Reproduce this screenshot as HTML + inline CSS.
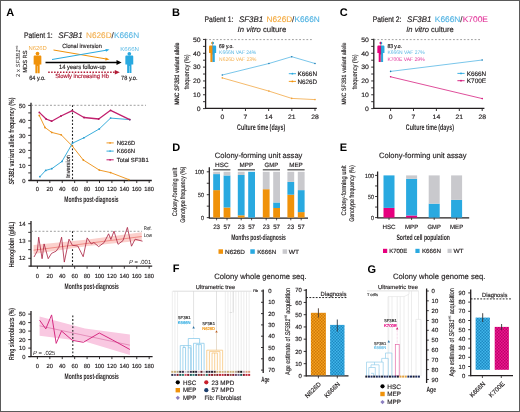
<!DOCTYPE html>
<html><head><meta charset="utf-8"><style>
html,body{margin:0;padding:0;background:#fff;}
svg{display:block;font-family:"Liberation Sans",sans-serif;will-change:transform;text-rendering:geometricPrecision;}
</style></head><body>
<svg width="520" height="412" viewBox="0 0 520 412">
<rect x="0" y="0" width="520" height="412" fill="#fff"/>
<text x="6.30" y="15.80" font-size="11" fill="#000" font-weight="bold" >A</text>
<text x="24.00" y="38.4" font-size="8.1" fill="#231f20" stroke="#231f20" stroke-width="0.2" textLength="28.7" lengthAdjust="spacingAndGlyphs">Patient 1:</text>
<text x="58.30" y="38.4" font-size="8.1" font-style="italic" fill="#231f20" stroke="#231f20" stroke-width="0.15" textLength="24.3" lengthAdjust="spacingAndGlyphs">SF3B1</text>
<text x="86.00" y="38.4" font-size="8.1" fill="#f4b050" stroke="#f4b050" stroke-width="0.1" textLength="25.6" lengthAdjust="spacingAndGlyphs">N626D</text>
<text x="111.50" y="38.4" font-size="8.1" fill="#231f20" stroke="#231f20" stroke-width="0.1">/</text>
<text x="113.90" y="38.4" font-size="8.1" fill="#5cb8e4" stroke="#5cb8e4" stroke-width="0.1" textLength="25.3" lengthAdjust="spacingAndGlyphs">K666N</text>
<text transform="translate(19.9,61.2) rotate(-90)" font-size="5.9" fill="#231f20" stroke="#231f20" stroke-width="0" text-anchor="middle">2 x <tspan font-style="italic">SF3B1</tspan><tspan font-size="3.6" dy="-2.2">mt</tspan></text>
<text transform="translate(26.80,61.60) rotate(-90)" font-size="5.9" fill="#231f20" text-anchor="middle" textLength="22.4" lengthAdjust="spacingAndGlyphs"  stroke="#231f20" stroke-width="0.16">MDS RS</text>
<text x="37.70" y="50.34" font-size="5.7" fill="#f4ae4a" stroke="#f4ae4a" stroke-width="0.01" text-anchor="middle" textLength="18.4" lengthAdjust="spacingAndGlyphs" >N626D</text>
<g fill="#f0920a"><circle cx="37.50" cy="53.60" r="1.85"/><path d="M33.65,56.40 Q33.65,55.40 34.65,55.40 L40.35,55.40 Q41.35,55.40 41.35,56.40 L41.35,64.40 L39.65,64.40 L39.65,73.30 L37.70,73.30 L37.70,65.90 L37.30,65.90 L37.30,73.30 L35.35,73.30 L35.35,64.40 L33.65,64.40 Z"/></g>
<text x="37.40" y="79.92" font-size="6.2" fill="#231f20" text-anchor="middle" textLength="16.2" lengthAdjust="spacingAndGlyphs"  stroke="#231f20" stroke-width="0.16">64 y.o.</text>
<text x="129.60" y="50.74" font-size="5.7" fill="#5dbbe6" stroke="#5dbbe6" stroke-width="0.01" text-anchor="middle" textLength="18.7" lengthAdjust="spacingAndGlyphs" >K666N</text>
<g fill="#29a9e0"><circle cx="129.30" cy="53.80" r="1.85"/><path d="M125.35,56.60 Q125.35,55.60 126.35,55.60 L132.25,55.60 Q133.25,55.60 133.25,56.60 L133.25,64.40 L131.45,64.40 L131.45,73.10 L129.50,73.10 L129.50,65.90 L129.10,65.90 L129.10,73.10 L127.15,73.10 L127.15,64.40 L125.35,64.40 Z"/></g>
<text x="129.30" y="79.82" font-size="6.2" fill="#231f20" text-anchor="middle" textLength="16.4" lengthAdjust="spacingAndGlyphs"  stroke="#231f20" stroke-width="0.16">78 y.o.</text>
<line x1="53.50" y1="50.00" x2="107.50" y2="59.20" stroke="#f0920a" stroke-width="1.0" />
<polygon points="109.50,59.60 105.60,57.60 105.30,60.40" fill="#f0920a" />
<line x1="52.00" y1="59.50" x2="107.50" y2="50.00" stroke="#29a9e0" stroke-width="1.0" />
<polygon points="109.50,49.60 105.40,49.00 106.00,51.80" fill="#29a9e0" />
<text x="82.00" y="47.95" font-size="6.0" fill="#231f20" text-anchor="middle" textLength="39.7" lengthAdjust="spacingAndGlyphs"  stroke="#231f20" stroke-width="0.16">Clonal inversion</text>
<line x1="45.50" y1="62.50" x2="117.00" y2="62.50" stroke="#000" stroke-width="1.3" />
<polygon points="121.60,62.50 116.50,59.90 116.50,65.10" fill="#000" />
<text x="82.40" y="69.18" font-size="6.1" fill="#231f20" text-anchor="middle" textLength="46.8" lengthAdjust="spacingAndGlyphs"  stroke="#231f20" stroke-width="0.16">14 years follow-up</text>
<line x1="48.20" y1="72.20" x2="115.00" y2="72.20" stroke="#b11b35" stroke-width="1.5" stroke-dasharray="1.5,1.45" />
<polygon points="119.80,72.20 114.80,69.90 114.80,74.50" fill="#b11b35" />
<text x="82.10" y="78.35" font-size="6.0" fill="#b11b35" text-anchor="middle" textLength="53.8" lengthAdjust="spacingAndGlyphs"  stroke="#b11b35" stroke-width="0.16">Slowly increasing Hb</text>
<line x1="31.00" y1="102.80" x2="31.00" y2="181.00" stroke="#231f20" stroke-width="1.3" />
<line x1="28.50" y1="180.50" x2="151.80" y2="180.50" stroke="#231f20" stroke-width="1.3" />
<line x1="28.20" y1="180.40" x2="31.00" y2="180.40" stroke="#231f20" stroke-width="0.9" />
<line x1="28.20" y1="172.90" x2="31.00" y2="172.90" stroke="#231f20" stroke-width="0.9" />
<line x1="28.20" y1="165.40" x2="31.00" y2="165.40" stroke="#231f20" stroke-width="0.9" />
<line x1="28.20" y1="157.90" x2="31.00" y2="157.90" stroke="#231f20" stroke-width="0.9" />
<line x1="28.20" y1="150.40" x2="31.00" y2="150.40" stroke="#231f20" stroke-width="0.9" />
<line x1="28.20" y1="142.90" x2="31.00" y2="142.90" stroke="#231f20" stroke-width="0.9" />
<line x1="28.20" y1="135.40" x2="31.00" y2="135.40" stroke="#231f20" stroke-width="0.9" />
<line x1="28.20" y1="127.90" x2="31.00" y2="127.90" stroke="#231f20" stroke-width="0.9" />
<line x1="28.20" y1="120.40" x2="31.00" y2="120.40" stroke="#231f20" stroke-width="0.9" />
<line x1="28.20" y1="112.90" x2="31.00" y2="112.90" stroke="#231f20" stroke-width="0.9" />
<line x1="28.20" y1="105.40" x2="31.00" y2="105.40" stroke="#231f20" stroke-width="0.9" />
<text x="25.40" y="182.51" font-size="5.9" fill="#231f20" text-anchor="end" textLength="3.25" lengthAdjust="spacingAndGlyphs"  stroke="#231f20" stroke-width="0.16">0</text>
<text x="25.40" y="167.51" font-size="5.9" fill="#231f20" text-anchor="end" textLength="6.5" lengthAdjust="spacingAndGlyphs"  stroke="#231f20" stroke-width="0.16">10</text>
<text x="25.40" y="152.51" font-size="5.9" fill="#231f20" text-anchor="end" textLength="6.5" lengthAdjust="spacingAndGlyphs"  stroke="#231f20" stroke-width="0.16">20</text>
<text x="25.40" y="137.51" font-size="5.9" fill="#231f20" text-anchor="end" textLength="6.5" lengthAdjust="spacingAndGlyphs"  stroke="#231f20" stroke-width="0.16">30</text>
<text x="25.40" y="122.51" font-size="5.9" fill="#231f20" text-anchor="end" textLength="6.5" lengthAdjust="spacingAndGlyphs"  stroke="#231f20" stroke-width="0.16">40</text>
<text x="25.40" y="107.51" font-size="5.9" fill="#231f20" text-anchor="end" textLength="6.5" lengthAdjust="spacingAndGlyphs"  stroke="#231f20" stroke-width="0.16">50</text>
<line x1="37.40" y1="180.50" x2="37.40" y2="183.00" stroke="#231f20" stroke-width="0.9" />
<text x="37.40" y="191.31" font-size="5.9" fill="#231f20" text-anchor="middle" textLength="3.25" lengthAdjust="spacingAndGlyphs"  stroke="#231f20" stroke-width="0.16">0</text>
<line x1="49.82" y1="180.50" x2="49.82" y2="183.00" stroke="#231f20" stroke-width="0.9" />
<text x="49.82" y="191.31" font-size="5.9" fill="#231f20" text-anchor="middle" textLength="6.5" lengthAdjust="spacingAndGlyphs"  stroke="#231f20" stroke-width="0.16">20</text>
<line x1="62.24" y1="180.50" x2="62.24" y2="183.00" stroke="#231f20" stroke-width="0.9" />
<text x="62.24" y="191.31" font-size="5.9" fill="#231f20" text-anchor="middle" textLength="6.5" lengthAdjust="spacingAndGlyphs"  stroke="#231f20" stroke-width="0.16">40</text>
<line x1="74.66" y1="180.50" x2="74.66" y2="183.00" stroke="#231f20" stroke-width="0.9" />
<text x="74.66" y="191.31" font-size="5.9" fill="#231f20" text-anchor="middle" textLength="6.5" lengthAdjust="spacingAndGlyphs"  stroke="#231f20" stroke-width="0.16">60</text>
<line x1="87.08" y1="180.50" x2="87.08" y2="183.00" stroke="#231f20" stroke-width="0.9" />
<text x="87.08" y="191.31" font-size="5.9" fill="#231f20" text-anchor="middle" textLength="6.5" lengthAdjust="spacingAndGlyphs"  stroke="#231f20" stroke-width="0.16">80</text>
<line x1="99.50" y1="180.50" x2="99.50" y2="183.00" stroke="#231f20" stroke-width="0.9" />
<text x="99.50" y="191.31" font-size="5.9" fill="#231f20" text-anchor="middle" textLength="9.75" lengthAdjust="spacingAndGlyphs"  stroke="#231f20" stroke-width="0.16">100</text>
<line x1="111.92" y1="180.50" x2="111.92" y2="183.00" stroke="#231f20" stroke-width="0.9" />
<text x="111.92" y="191.31" font-size="5.9" fill="#231f20" text-anchor="middle" textLength="9.75" lengthAdjust="spacingAndGlyphs"  stroke="#231f20" stroke-width="0.16">120</text>
<line x1="124.34" y1="180.50" x2="124.34" y2="183.00" stroke="#231f20" stroke-width="0.9" />
<text x="124.34" y="191.31" font-size="5.9" fill="#231f20" text-anchor="middle" textLength="9.75" lengthAdjust="spacingAndGlyphs"  stroke="#231f20" stroke-width="0.16">140</text>
<line x1="136.76" y1="180.50" x2="136.76" y2="183.00" stroke="#231f20" stroke-width="0.9" />
<text x="136.76" y="191.31" font-size="5.9" fill="#231f20" text-anchor="middle" textLength="9.75" lengthAdjust="spacingAndGlyphs"  stroke="#231f20" stroke-width="0.16">160</text>
<line x1="149.18" y1="180.50" x2="149.18" y2="183.00" stroke="#231f20" stroke-width="0.9" />
<text x="149.18" y="191.31" font-size="5.9" fill="#231f20" text-anchor="middle" textLength="9.75" lengthAdjust="spacingAndGlyphs"  stroke="#231f20" stroke-width="0.16">180</text>
<text x="91.40" y="202.43" font-size="7.9" fill="#231f20" text-anchor="middle" font-weight="bold" textLength="54.3" lengthAdjust="spacingAndGlyphs" >Months post-diagnosis</text>
<text transform="translate(13.9,141.0) rotate(-90)" font-size="7.5" fill="#231f20" text-anchor="middle" textLength="87" lengthAdjust="spacingAndGlyphs" font-weight="bold"><tspan font-style="italic">SF3B1</tspan> variant allele frequency (%)</text>
<line x1="31.00" y1="105.30" x2="146.00" y2="105.30" stroke="#777" stroke-width="0.7" stroke-dasharray="2,1.8" />
<line x1="72.50" y1="105.30" x2="72.50" y2="180.50" stroke="#222" stroke-width="1.1" stroke-dasharray="1.8,1.8" />
<text transform="translate(70.20,166.50) rotate(-90)" font-size="5.8" fill="#231f20" text-anchor="middle" textLength="23" lengthAdjust="spacingAndGlyphs"  stroke="#231f20" stroke-width="0.16">Inversion</text>
<polyline points="39.30,115.50 45.00,127.50 51.70,132.40 61.20,134.80 72.40,146.20 83.30,160.00 99.30,170.10 110.60,172.60 128.80,179.60" fill="none" stroke="#f09a28" stroke-width="1" stroke-linejoin="round" />
<polyline points="39.90,176.70 45.70,170.40 51.80,168.70 62.00,161.40 72.50,143.20 83.90,137.80 99.30,128.90 110.60,118.10 129.80,119.60" fill="none" stroke="#3aaedc" stroke-width="1" stroke-linejoin="round" />
<polyline points="39.30,112.40 46.10,119.00 51.60,121.20 61.00,116.00 72.30,110.70 84.00,117.50 98.70,119.00 110.60,110.30 129.80,119.60" fill="none" stroke="#c2206e" stroke-width="1.3" stroke-linejoin="round" />
<circle cx="39.30" cy="115.50" r="0.90" fill="#e8901a" />
<circle cx="45.00" cy="127.50" r="0.90" fill="#e8901a" />
<circle cx="51.70" cy="132.40" r="0.90" fill="#e8901a" />
<circle cx="61.20" cy="134.80" r="0.90" fill="#e8901a" />
<circle cx="72.40" cy="146.20" r="0.90" fill="#e8901a" />
<circle cx="83.30" cy="160.00" r="0.90" fill="#e8901a" />
<circle cx="99.30" cy="170.10" r="0.90" fill="#e8901a" />
<circle cx="110.60" cy="172.60" r="0.90" fill="#e8901a" />
<circle cx="128.80" cy="179.60" r="0.90" fill="#e8901a" />
<circle cx="39.90" cy="176.70" r="0.90" fill="#2a9bd0" />
<circle cx="45.70" cy="170.40" r="0.90" fill="#2a9bd0" />
<circle cx="51.80" cy="168.70" r="0.90" fill="#2a9bd0" />
<circle cx="62.00" cy="161.40" r="0.90" fill="#2a9bd0" />
<circle cx="72.50" cy="143.20" r="0.90" fill="#2a9bd0" />
<circle cx="83.90" cy="137.80" r="0.90" fill="#2a9bd0" />
<circle cx="99.30" cy="128.90" r="0.90" fill="#2a9bd0" />
<circle cx="110.60" cy="118.10" r="0.90" fill="#2a9bd0" />
<circle cx="129.80" cy="119.60" r="0.90" fill="#2a9bd0" />
<circle cx="39.30" cy="112.40" r="0.90" fill="#b01a60" />
<circle cx="46.10" cy="119.00" r="0.90" fill="#b01a60" />
<circle cx="51.60" cy="121.20" r="0.90" fill="#b01a60" />
<circle cx="61.00" cy="116.00" r="0.90" fill="#b01a60" />
<circle cx="72.30" cy="110.70" r="0.90" fill="#b01a60" />
<circle cx="84.00" cy="117.50" r="0.90" fill="#b01a60" />
<circle cx="98.70" cy="119.00" r="0.90" fill="#b01a60" />
<circle cx="110.60" cy="110.30" r="0.90" fill="#b01a60" />
<circle cx="129.80" cy="119.60" r="0.90" fill="#b01a60" />
<line x1="106.50" y1="142.90" x2="113.70" y2="142.90" stroke="#f09a28" stroke-width="1" />
<circle cx="110.10" cy="142.90" r="0.90" fill="#f09a28" />
<text x="116.80" y="145.01" font-size="5.9" fill="#231f20" textLength="18.4" lengthAdjust="spacingAndGlyphs"  stroke="#231f20" stroke-width="0.16">N626D</text>
<line x1="106.50" y1="151.10" x2="113.70" y2="151.10" stroke="#3aaedc" stroke-width="1" />
<circle cx="110.10" cy="151.10" r="0.90" fill="#3aaedc" />
<text x="116.80" y="153.21" font-size="5.9" fill="#231f20" textLength="18.2" lengthAdjust="spacingAndGlyphs"  stroke="#231f20" stroke-width="0.16">K666N</text>
<line x1="106.50" y1="159.80" x2="113.70" y2="159.80" stroke="#c2206e" stroke-width="1" />
<circle cx="110.10" cy="159.80" r="0.90" fill="#c2206e" />
<text x="116.80" y="161.91" font-size="5.9" fill="#231f20" textLength="32" lengthAdjust="spacingAndGlyphs"  stroke="#231f20" stroke-width="0.16">Total SF3B1</text>
<line x1="31.00" y1="221.00" x2="31.00" y2="266.60" stroke="#231f20" stroke-width="1.3" />
<line x1="28.50" y1="266.20" x2="152.20" y2="266.20" stroke="#231f20" stroke-width="1.3" />
<line x1="28.20" y1="258.30" x2="31.00" y2="258.30" stroke="#231f20" stroke-width="0.9" />
<line x1="28.20" y1="249.65" x2="31.00" y2="249.65" stroke="#231f20" stroke-width="0.9" />
<line x1="28.20" y1="241.00" x2="31.00" y2="241.00" stroke="#231f20" stroke-width="0.9" />
<line x1="28.20" y1="232.35" x2="31.00" y2="232.35" stroke="#231f20" stroke-width="0.9" />
<line x1="28.20" y1="223.70" x2="31.00" y2="223.70" stroke="#231f20" stroke-width="0.9" />
<text x="25.60" y="260.41" font-size="5.9" fill="#231f20" text-anchor="end" textLength="6.5" lengthAdjust="spacingAndGlyphs"  stroke="#231f20" stroke-width="0.16">12</text>
<text x="25.60" y="243.11" font-size="5.9" fill="#231f20" text-anchor="end" textLength="6.5" lengthAdjust="spacingAndGlyphs"  stroke="#231f20" stroke-width="0.16">13</text>
<text x="25.60" y="225.81" font-size="5.9" fill="#231f20" text-anchor="end" textLength="6.5" lengthAdjust="spacingAndGlyphs"  stroke="#231f20" stroke-width="0.16">14</text>
<line x1="37.40" y1="266.20" x2="37.40" y2="268.70" stroke="#231f20" stroke-width="0.9" />
<text x="37.40" y="278.01" font-size="5.9" fill="#231f20" text-anchor="middle" textLength="3.25" lengthAdjust="spacingAndGlyphs"  stroke="#231f20" stroke-width="0.16">0</text>
<line x1="49.82" y1="266.20" x2="49.82" y2="268.70" stroke="#231f20" stroke-width="0.9" />
<text x="49.82" y="278.01" font-size="5.9" fill="#231f20" text-anchor="middle" textLength="6.5" lengthAdjust="spacingAndGlyphs"  stroke="#231f20" stroke-width="0.16">20</text>
<line x1="62.24" y1="266.20" x2="62.24" y2="268.70" stroke="#231f20" stroke-width="0.9" />
<text x="62.24" y="278.01" font-size="5.9" fill="#231f20" text-anchor="middle" textLength="6.5" lengthAdjust="spacingAndGlyphs"  stroke="#231f20" stroke-width="0.16">40</text>
<line x1="74.66" y1="266.20" x2="74.66" y2="268.70" stroke="#231f20" stroke-width="0.9" />
<text x="74.66" y="278.01" font-size="5.9" fill="#231f20" text-anchor="middle" textLength="6.5" lengthAdjust="spacingAndGlyphs"  stroke="#231f20" stroke-width="0.16">60</text>
<line x1="87.08" y1="266.20" x2="87.08" y2="268.70" stroke="#231f20" stroke-width="0.9" />
<text x="87.08" y="278.01" font-size="5.9" fill="#231f20" text-anchor="middle" textLength="6.5" lengthAdjust="spacingAndGlyphs"  stroke="#231f20" stroke-width="0.16">80</text>
<line x1="99.50" y1="266.20" x2="99.50" y2="268.70" stroke="#231f20" stroke-width="0.9" />
<text x="99.50" y="278.01" font-size="5.9" fill="#231f20" text-anchor="middle" textLength="9.75" lengthAdjust="spacingAndGlyphs"  stroke="#231f20" stroke-width="0.16">100</text>
<line x1="111.92" y1="266.20" x2="111.92" y2="268.70" stroke="#231f20" stroke-width="0.9" />
<text x="111.92" y="278.01" font-size="5.9" fill="#231f20" text-anchor="middle" textLength="9.75" lengthAdjust="spacingAndGlyphs"  stroke="#231f20" stroke-width="0.16">120</text>
<line x1="124.34" y1="266.20" x2="124.34" y2="268.70" stroke="#231f20" stroke-width="0.9" />
<text x="124.34" y="278.01" font-size="5.9" fill="#231f20" text-anchor="middle" textLength="9.75" lengthAdjust="spacingAndGlyphs"  stroke="#231f20" stroke-width="0.16">140</text>
<line x1="136.76" y1="266.20" x2="136.76" y2="268.70" stroke="#231f20" stroke-width="0.9" />
<text x="136.76" y="278.01" font-size="5.9" fill="#231f20" text-anchor="middle" textLength="9.75" lengthAdjust="spacingAndGlyphs"  stroke="#231f20" stroke-width="0.16">160</text>
<line x1="149.18" y1="266.20" x2="149.18" y2="268.70" stroke="#231f20" stroke-width="0.9" />
<text x="149.18" y="278.01" font-size="5.9" fill="#231f20" text-anchor="middle" textLength="9.75" lengthAdjust="spacingAndGlyphs"  stroke="#231f20" stroke-width="0.16">180</text>
<text x="91.70" y="288.73" font-size="7.9" fill="#231f20" text-anchor="middle" font-weight="bold" textLength="54.3" lengthAdjust="spacingAndGlyphs" >Months post-diagnosis</text>
<text transform="translate(14.00,244.50) rotate(-90)" font-size="7.4" fill="#231f20" text-anchor="middle" font-weight="bold" textLength="45.6" lengthAdjust="spacingAndGlyphs" >Hemoglobin (g/dL)</text>
<line x1="31.00" y1="231.30" x2="142.00" y2="231.30" stroke="#777" stroke-width="0.7" stroke-dasharray="2,1.8" />
<line x1="72.50" y1="231.30" x2="72.50" y2="266.20" stroke="#222" stroke-width="1.1" stroke-dasharray="1.8,1.8" />
<polygon points="33.60,245.00 88.00,239.60 141.80,232.30 141.80,240.60 88.00,245.90 33.60,253.90" fill="#fbd0cc" />
<line x1="33.60" y1="250.20" x2="141.80" y2="236.50" stroke="#ee7a74" stroke-width="0.8" />
<polyline points="34.00,257.00 37.40,250.70 38.70,237.20 42.10,258.70 44.10,243.90 48.20,258.70 51.50,253.40 56.20,251.10 58.90,247.30 61.60,237.20 64.30,262.10 69.00,239.20 72.40,245.30 77.80,246.00 83.20,256.70 87.20,237.90 91.20,243.90 93.90,242.60 98.70,246.60 104.10,242.60 108.60,233.80 110.90,239.50 114.00,231.20 118.00,244.30 123.00,240.60 127.40,227.40 131.50,246.20 135.10,239.20 142.50,241.20" fill="none" stroke="#a81e3e" stroke-width="0.8" stroke-linejoin="round" />
<text x="143.80" y="229.59" font-size="5.0" fill="#555" textLength="8.0" lengthAdjust="spacingAndGlyphs"  stroke="#555" stroke-width="0.16">Ref.</text>
<text x="143.80" y="236.99" font-size="5.0" fill="#555" textLength="8.2" lengthAdjust="spacingAndGlyphs"  stroke="#555" stroke-width="0.16">Low</text>
<text x="129" y="263.55" font-size="6.0" fill="#231f20" stroke="#231f20" stroke-width="0" textLength="22.2" lengthAdjust="spacingAndGlyphs"><tspan font-style="italic">P</tspan> = .001</text>
<line x1="31.00" y1="311.00" x2="31.00" y2="357.00" stroke="#231f20" stroke-width="1.3" />
<line x1="28.50" y1="356.60" x2="152.60" y2="356.60" stroke="#231f20" stroke-width="1.3" />
<line x1="28.20" y1="356.60" x2="31.00" y2="356.60" stroke="#231f20" stroke-width="0.9" />
<text x="25.50" y="358.71" font-size="5.9" fill="#231f20" text-anchor="end" textLength="3.25" lengthAdjust="spacingAndGlyphs"  stroke="#231f20" stroke-width="0.16">0</text>
<line x1="28.20" y1="348.10" x2="31.00" y2="348.10" stroke="#231f20" stroke-width="0.9" />
<text x="25.50" y="350.21" font-size="5.9" fill="#231f20" text-anchor="end" textLength="6.5" lengthAdjust="spacingAndGlyphs"  stroke="#231f20" stroke-width="0.16">10</text>
<line x1="28.20" y1="339.60" x2="31.00" y2="339.60" stroke="#231f20" stroke-width="0.9" />
<text x="25.50" y="341.71" font-size="5.9" fill="#231f20" text-anchor="end" textLength="6.5" lengthAdjust="spacingAndGlyphs"  stroke="#231f20" stroke-width="0.16">20</text>
<line x1="28.20" y1="331.10" x2="31.00" y2="331.10" stroke="#231f20" stroke-width="0.9" />
<text x="25.50" y="333.21" font-size="5.9" fill="#231f20" text-anchor="end" textLength="6.5" lengthAdjust="spacingAndGlyphs"  stroke="#231f20" stroke-width="0.16">30</text>
<line x1="28.20" y1="322.60" x2="31.00" y2="322.60" stroke="#231f20" stroke-width="0.9" />
<text x="25.50" y="324.71" font-size="5.9" fill="#231f20" text-anchor="end" textLength="6.5" lengthAdjust="spacingAndGlyphs"  stroke="#231f20" stroke-width="0.16">40</text>
<line x1="28.20" y1="314.10" x2="31.00" y2="314.10" stroke="#231f20" stroke-width="0.9" />
<text x="25.50" y="316.21" font-size="5.9" fill="#231f20" text-anchor="end" textLength="6.5" lengthAdjust="spacingAndGlyphs"  stroke="#231f20" stroke-width="0.16">50</text>
<line x1="37.40" y1="356.60" x2="37.40" y2="359.10" stroke="#231f20" stroke-width="0.9" />
<text x="37.40" y="368.11" font-size="5.9" fill="#231f20" text-anchor="middle" textLength="3.25" lengthAdjust="spacingAndGlyphs"  stroke="#231f20" stroke-width="0.16">0</text>
<line x1="49.82" y1="356.60" x2="49.82" y2="359.10" stroke="#231f20" stroke-width="0.9" />
<text x="49.82" y="368.11" font-size="5.9" fill="#231f20" text-anchor="middle" textLength="6.5" lengthAdjust="spacingAndGlyphs"  stroke="#231f20" stroke-width="0.16">20</text>
<line x1="62.24" y1="356.60" x2="62.24" y2="359.10" stroke="#231f20" stroke-width="0.9" />
<text x="62.24" y="368.11" font-size="5.9" fill="#231f20" text-anchor="middle" textLength="6.5" lengthAdjust="spacingAndGlyphs"  stroke="#231f20" stroke-width="0.16">40</text>
<line x1="74.66" y1="356.60" x2="74.66" y2="359.10" stroke="#231f20" stroke-width="0.9" />
<text x="74.66" y="368.11" font-size="5.9" fill="#231f20" text-anchor="middle" textLength="6.5" lengthAdjust="spacingAndGlyphs"  stroke="#231f20" stroke-width="0.16">60</text>
<line x1="87.08" y1="356.60" x2="87.08" y2="359.10" stroke="#231f20" stroke-width="0.9" />
<text x="87.08" y="368.11" font-size="5.9" fill="#231f20" text-anchor="middle" textLength="6.5" lengthAdjust="spacingAndGlyphs"  stroke="#231f20" stroke-width="0.16">80</text>
<line x1="99.50" y1="356.60" x2="99.50" y2="359.10" stroke="#231f20" stroke-width="0.9" />
<text x="99.50" y="368.11" font-size="5.9" fill="#231f20" text-anchor="middle" textLength="9.75" lengthAdjust="spacingAndGlyphs"  stroke="#231f20" stroke-width="0.16">100</text>
<line x1="111.92" y1="356.60" x2="111.92" y2="359.10" stroke="#231f20" stroke-width="0.9" />
<text x="111.92" y="368.11" font-size="5.9" fill="#231f20" text-anchor="middle" textLength="9.75" lengthAdjust="spacingAndGlyphs"  stroke="#231f20" stroke-width="0.16">120</text>
<line x1="124.34" y1="356.60" x2="124.34" y2="359.10" stroke="#231f20" stroke-width="0.9" />
<text x="124.34" y="368.11" font-size="5.9" fill="#231f20" text-anchor="middle" textLength="9.75" lengthAdjust="spacingAndGlyphs"  stroke="#231f20" stroke-width="0.16">140</text>
<line x1="136.76" y1="356.60" x2="136.76" y2="359.10" stroke="#231f20" stroke-width="0.9" />
<text x="136.76" y="368.11" font-size="5.9" fill="#231f20" text-anchor="middle" textLength="9.75" lengthAdjust="spacingAndGlyphs"  stroke="#231f20" stroke-width="0.16">160</text>
<line x1="149.18" y1="356.60" x2="149.18" y2="359.10" stroke="#231f20" stroke-width="0.9" />
<text x="149.18" y="368.11" font-size="5.9" fill="#231f20" text-anchor="middle" textLength="9.75" lengthAdjust="spacingAndGlyphs"  stroke="#231f20" stroke-width="0.16">180</text>
<text x="91.70" y="379.13" font-size="7.9" fill="#231f20" text-anchor="middle" font-weight="bold" textLength="54.3" lengthAdjust="spacingAndGlyphs" >Months post-diagnosis</text>
<text transform="translate(14.00,334.00) rotate(-90)" font-size="7.4" fill="#231f20" text-anchor="middle" font-weight="bold" textLength="52" lengthAdjust="spacingAndGlyphs" >Ring sideroblasts (%)</text>
<polygon points="39.60,316.60 85.00,328.60 129.90,334.40 129.90,354.90 85.00,341.60 39.60,335.80" fill="#f9c8e1" />
<line x1="39.60" y1="325.80" x2="129.90" y2="345.20" stroke="#e07fb0" stroke-width="0.8" />
<line x1="72.80" y1="315.50" x2="72.80" y2="356.60" stroke="#222" stroke-width="1.1" stroke-dasharray="1.8,1.8" />
<polyline points="39.60,320.20 45.80,328.90 51.60,314.90 56.20,343.40 61.50,331.00 72.30,340.30 83.40,342.30 99.30,333.00 112.30,339.80 129.90,349.50" fill="none" stroke="#d4237c" stroke-width="0.95" stroke-linejoin="round" />
<text x="33" y="354.75" font-size="6.0" fill="#231f20" stroke="#231f20" stroke-width="0" textLength="22.3" lengthAdjust="spacingAndGlyphs"><tspan font-style="italic">P</tspan> = .025</text>
<text x="172.10" y="15.80" font-size="11" fill="#000" font-weight="bold" >B</text>
<text x="204.60" y="22.3" font-size="8.1" fill="#231f20" stroke="#231f20" stroke-width="0.2" textLength="28.7" lengthAdjust="spacingAndGlyphs">Patient 1:</text>
<text x="238.90" y="22.3" font-size="8.1" font-style="italic" fill="#231f20" stroke="#231f20" stroke-width="0.15" textLength="24.3" lengthAdjust="spacingAndGlyphs">SF3B1</text>
<text x="266.60" y="22.3" font-size="8.1" fill="#f4a93c" stroke="#f4a93c" stroke-width="0.1" textLength="25.6" lengthAdjust="spacingAndGlyphs">N626D</text>
<text x="292.10" y="22.3" font-size="8.1" fill="#231f20" stroke="#231f20" stroke-width="0.1">/</text>
<text x="294.50" y="22.3" font-size="8.1" fill="#4fb2e2" stroke="#4fb2e2" stroke-width="0.1" textLength="25.3" lengthAdjust="spacingAndGlyphs">K666N</text>
<text x="237.5" y="31.6" font-size="7.7" fill="#231f20" stroke="#231f20" stroke-width="0.15" textLength="48.75" lengthAdjust="spacingAndGlyphs"><tspan font-style="italic">In vitro</tspan> culture</text>
<line x1="205.60" y1="38.80" x2="205.60" y2="108.90" stroke="#231f20" stroke-width="1.3" />
<line x1="205.60" y1="108.30" x2="316.80" y2="108.30" stroke="#231f20" stroke-width="1.3" />
<line x1="203.00" y1="108.60" x2="205.60" y2="108.60" stroke="#231f20" stroke-width="0.9" />
<line x1="203.00" y1="101.68" x2="205.60" y2="101.68" stroke="#231f20" stroke-width="0.9" />
<line x1="203.00" y1="94.77" x2="205.60" y2="94.77" stroke="#231f20" stroke-width="0.9" />
<line x1="203.00" y1="87.85" x2="205.60" y2="87.85" stroke="#231f20" stroke-width="0.9" />
<line x1="203.00" y1="80.94" x2="205.60" y2="80.94" stroke="#231f20" stroke-width="0.9" />
<line x1="203.00" y1="74.02" x2="205.60" y2="74.02" stroke="#231f20" stroke-width="0.9" />
<line x1="203.00" y1="67.11" x2="205.60" y2="67.11" stroke="#231f20" stroke-width="0.9" />
<line x1="203.00" y1="60.19" x2="205.60" y2="60.19" stroke="#231f20" stroke-width="0.9" />
<line x1="203.00" y1="53.28" x2="205.60" y2="53.28" stroke="#231f20" stroke-width="0.9" />
<line x1="203.00" y1="46.36" x2="205.60" y2="46.36" stroke="#231f20" stroke-width="0.9" />
<line x1="203.00" y1="39.45" x2="205.60" y2="39.45" stroke="#231f20" stroke-width="0.9" />
<text x="200.70" y="110.86" font-size="6.3" fill="#231f20" text-anchor="end" textLength="3.85" lengthAdjust="spacingAndGlyphs"  stroke="#231f20" stroke-width="0.16">0</text>
<text x="200.70" y="97.03" font-size="6.3" fill="#231f20" text-anchor="end" textLength="7.7" lengthAdjust="spacingAndGlyphs"  stroke="#231f20" stroke-width="0.16">10</text>
<text x="200.70" y="83.20" font-size="6.3" fill="#231f20" text-anchor="end" textLength="7.7" lengthAdjust="spacingAndGlyphs"  stroke="#231f20" stroke-width="0.16">20</text>
<text x="200.70" y="69.37" font-size="6.3" fill="#231f20" text-anchor="end" textLength="7.7" lengthAdjust="spacingAndGlyphs"  stroke="#231f20" stroke-width="0.16">30</text>
<text x="200.70" y="55.54" font-size="6.3" fill="#231f20" text-anchor="end" textLength="7.7" lengthAdjust="spacingAndGlyphs"  stroke="#231f20" stroke-width="0.16">40</text>
<text x="200.70" y="41.71" font-size="6.3" fill="#231f20" text-anchor="end" textLength="7.7" lengthAdjust="spacingAndGlyphs"  stroke="#231f20" stroke-width="0.16">50</text>
<line x1="222.30" y1="108.30" x2="222.30" y2="111.00" stroke="#231f20" stroke-width="0.9" />
<text x="222.30" y="119.16" font-size="6.3" fill="#231f20" text-anchor="middle" textLength="3.8" lengthAdjust="spacingAndGlyphs"  stroke="#231f20" stroke-width="0.16">0</text>
<line x1="245.47" y1="108.30" x2="245.47" y2="111.00" stroke="#231f20" stroke-width="0.9" />
<text x="245.47" y="119.16" font-size="6.3" fill="#231f20" text-anchor="middle" textLength="3.8" lengthAdjust="spacingAndGlyphs"  stroke="#231f20" stroke-width="0.16">7</text>
<line x1="268.65" y1="108.30" x2="268.65" y2="111.00" stroke="#231f20" stroke-width="0.9" />
<text x="268.65" y="119.16" font-size="6.3" fill="#231f20" text-anchor="middle" textLength="7.6" lengthAdjust="spacingAndGlyphs"  stroke="#231f20" stroke-width="0.16">14</text>
<line x1="291.82" y1="108.30" x2="291.82" y2="111.00" stroke="#231f20" stroke-width="0.9" />
<text x="291.82" y="119.16" font-size="6.3" fill="#231f20" text-anchor="middle" textLength="7.6" lengthAdjust="spacingAndGlyphs"  stroke="#231f20" stroke-width="0.16">21</text>
<line x1="315.00" y1="108.30" x2="315.00" y2="111.00" stroke="#231f20" stroke-width="0.9" />
<text x="315.00" y="119.16" font-size="6.3" fill="#231f20" text-anchor="middle" textLength="7.6" lengthAdjust="spacingAndGlyphs"  stroke="#231f20" stroke-width="0.16">28</text>
<text x="261.20" y="130.34" font-size="8.2" fill="#231f20" text-anchor="middle" font-weight="bold" textLength="48.2" lengthAdjust="spacingAndGlyphs" >Culture time (days)</text>
<line x1="205.60" y1="39.60" x2="312.00" y2="39.60" stroke="#777" stroke-width="0.7" stroke-dasharray="1.8,1.8" />
<text transform="translate(178.80,73.7) rotate(-90)" font-size="6.3" fill="#231f20" stroke="#231f20" stroke-width="0.22" text-anchor="middle" textLength="62.3" lengthAdjust="spacingAndGlyphs">MNC <tspan font-style="italic">SF3B1</tspan> variant allele</text>
<text transform="translate(188.60,71.80) rotate(-90)" font-size="6.8" fill="#231f20" stroke="#231f20" stroke-width="0.12" text-anchor="middle" textLength="35" lengthAdjust="spacingAndGlyphs" >frequency (%)</text>
<clipPath id="clp229L"><rect x="202.6" y="38.1" width="10" height="40"/></clipPath>
<clipPath id="clp229R"><rect x="212.6" y="38.1" width="10" height="40"/></clipPath>
<g fill="#f0920a" clip-path="url(#clp229L)"><circle cx="212.60" cy="43.10" r="1.45"/><path d="M209.05,46.50 Q209.05,45.50 210.05,45.50 L215.15,45.50 Q216.15,45.50 216.15,46.50 L216.15,53.00 L214.80,53.00 L214.80,62.10 L212.80,62.10 L212.80,54.50 L212.40,54.50 L212.40,62.10 L210.40,62.10 L210.40,53.00 L209.05,53.00 Z"/></g>
<g fill="#29a9e0" clip-path="url(#clp229R)"><circle cx="212.60" cy="43.10" r="1.45"/><path d="M209.05,46.50 Q209.05,45.50 210.05,45.50 L215.15,45.50 Q216.15,45.50 216.15,46.50 L216.15,53.00 L214.80,53.00 L214.80,62.10 L212.80,62.10 L212.80,54.50 L212.40,54.50 L212.40,62.10 L210.40,62.10 L210.40,53.00 L209.05,53.00 Z"/></g>
<rect x="212.10" y="41.65" width="1" height="20.45" fill="#3a5a5a" opacity="0.35"/>
<text x="219.10" y="47.50" font-size="5.6" fill="#231f20" stroke="#231f20" stroke-width="0.2" textLength="14.5" lengthAdjust="spacingAndGlyphs" >69 y.o.</text>
<text x="219.10" y="53.96" font-size="5.2" fill="#5cb8e4" stroke="#5cb8e4" stroke-width="0.01" textLength="37.2" lengthAdjust="spacingAndGlyphs" >K666N VAF 24%</text>
<text x="219.10" y="60.86" font-size="5.2" fill="#f4b050" stroke="#f4b050" stroke-width="0.01" textLength="37.2" lengthAdjust="spacingAndGlyphs" >N626D VAF 23%</text>
<polyline points="222.30,75.00 268.90,63.50 291.70,56.70 315.00,63.50" fill="none" stroke="#4db3e3" stroke-width="0.75" stroke-linejoin="round" />
<polyline points="222.30,77.90 268.90,91.10 291.70,98.40 315.00,99.60" fill="none" stroke="#f2a33a" stroke-width="0.75" stroke-linejoin="round" />
<circle cx="222.30" cy="75.00" r="0.80" fill="#1f7fb4" />
<circle cx="268.90" cy="63.50" r="0.80" fill="#1f7fb4" />
<circle cx="291.70" cy="56.70" r="0.80" fill="#1f7fb4" />
<circle cx="315.00" cy="63.50" r="0.80" fill="#1f7fb4" />
<circle cx="222.30" cy="77.90" r="0.80" fill="#f2a33a" />
<circle cx="268.90" cy="91.10" r="0.80" fill="#f2a33a" />
<circle cx="291.70" cy="98.40" r="0.80" fill="#f2a33a" />
<circle cx="315.00" cy="99.60" r="0.80" fill="#f2a33a" />
<line x1="288.80" y1="73.70" x2="296.00" y2="73.70" stroke="#29a9e0" stroke-width="0.9" />
<circle cx="292.40" cy="73.70" r="0.90" fill="#29a9e0" />
<text x="297.50" y="75.99" font-size="6.4" fill="#231f20" textLength="19.5" lengthAdjust="spacingAndGlyphs"  stroke="#231f20" stroke-width="0.16">K666N</text>
<line x1="288.80" y1="81.40" x2="296.00" y2="81.40" stroke="#f0920a" stroke-width="0.9" />
<circle cx="292.40" cy="81.40" r="0.90" fill="#f0920a" />
<text x="297.50" y="83.69" font-size="6.4" fill="#231f20" textLength="19.5" lengthAdjust="spacingAndGlyphs"  stroke="#231f20" stroke-width="0.16">N626D</text>
<text x="339.80" y="15.80" font-size="11" fill="#000" font-weight="bold" >C</text>
<text x="372.80" y="22.3" font-size="8.1" fill="#231f20" stroke="#231f20" stroke-width="0.2" textLength="28.7" lengthAdjust="spacingAndGlyphs">Patient 2:</text>
<text x="407.10" y="22.3" font-size="8.1" font-style="italic" fill="#231f20" stroke="#231f20" stroke-width="0.15" textLength="24.3" lengthAdjust="spacingAndGlyphs">SF3B1</text>
<text x="434.80" y="22.3" font-size="8.1" fill="#4fb2e2" stroke="#4fb2e2" stroke-width="0.1" textLength="25.6" lengthAdjust="spacingAndGlyphs">K666N</text>
<text x="460.30" y="22.3" font-size="8.1" fill="#231f20" stroke="#231f20" stroke-width="0.1">/</text>
<text x="462.70" y="22.3" font-size="8.1" fill="#e2359a" stroke="#e2359a" stroke-width="0.1" textLength="25.3" lengthAdjust="spacingAndGlyphs">K700E</text>
<text x="406.25" y="31.6" font-size="7.7" fill="#231f20" stroke="#231f20" stroke-width="0.15" textLength="47.5" lengthAdjust="spacingAndGlyphs"><tspan font-style="italic">In vitro</tspan> culture</text>
<line x1="373.80" y1="38.80" x2="373.80" y2="108.90" stroke="#231f20" stroke-width="1.3" />
<line x1="373.80" y1="108.30" x2="484.40" y2="108.30" stroke="#231f20" stroke-width="1.3" />
<line x1="371.20" y1="108.60" x2="373.80" y2="108.60" stroke="#231f20" stroke-width="0.9" />
<line x1="371.20" y1="101.68" x2="373.80" y2="101.68" stroke="#231f20" stroke-width="0.9" />
<line x1="371.20" y1="94.77" x2="373.80" y2="94.77" stroke="#231f20" stroke-width="0.9" />
<line x1="371.20" y1="87.85" x2="373.80" y2="87.85" stroke="#231f20" stroke-width="0.9" />
<line x1="371.20" y1="80.94" x2="373.80" y2="80.94" stroke="#231f20" stroke-width="0.9" />
<line x1="371.20" y1="74.02" x2="373.80" y2="74.02" stroke="#231f20" stroke-width="0.9" />
<line x1="371.20" y1="67.11" x2="373.80" y2="67.11" stroke="#231f20" stroke-width="0.9" />
<line x1="371.20" y1="60.19" x2="373.80" y2="60.19" stroke="#231f20" stroke-width="0.9" />
<line x1="371.20" y1="53.28" x2="373.80" y2="53.28" stroke="#231f20" stroke-width="0.9" />
<line x1="371.20" y1="46.36" x2="373.80" y2="46.36" stroke="#231f20" stroke-width="0.9" />
<line x1="371.20" y1="39.45" x2="373.80" y2="39.45" stroke="#231f20" stroke-width="0.9" />
<text x="368.90" y="110.86" font-size="6.3" fill="#231f20" text-anchor="end" textLength="3.85" lengthAdjust="spacingAndGlyphs"  stroke="#231f20" stroke-width="0.16">0</text>
<text x="368.90" y="97.03" font-size="6.3" fill="#231f20" text-anchor="end" textLength="7.7" lengthAdjust="spacingAndGlyphs"  stroke="#231f20" stroke-width="0.16">10</text>
<text x="368.90" y="83.20" font-size="6.3" fill="#231f20" text-anchor="end" textLength="7.7" lengthAdjust="spacingAndGlyphs"  stroke="#231f20" stroke-width="0.16">20</text>
<text x="368.90" y="69.37" font-size="6.3" fill="#231f20" text-anchor="end" textLength="7.7" lengthAdjust="spacingAndGlyphs"  stroke="#231f20" stroke-width="0.16">30</text>
<text x="368.90" y="55.54" font-size="6.3" fill="#231f20" text-anchor="end" textLength="7.7" lengthAdjust="spacingAndGlyphs"  stroke="#231f20" stroke-width="0.16">40</text>
<text x="368.90" y="41.71" font-size="6.3" fill="#231f20" text-anchor="end" textLength="7.7" lengthAdjust="spacingAndGlyphs"  stroke="#231f20" stroke-width="0.16">50</text>
<line x1="390.60" y1="108.30" x2="390.60" y2="111.00" stroke="#231f20" stroke-width="0.9" />
<text x="390.60" y="119.16" font-size="6.3" fill="#231f20" text-anchor="middle" textLength="3.8" lengthAdjust="spacingAndGlyphs"  stroke="#231f20" stroke-width="0.16">0</text>
<line x1="413.50" y1="108.30" x2="413.50" y2="111.00" stroke="#231f20" stroke-width="0.9" />
<text x="413.50" y="119.16" font-size="6.3" fill="#231f20" text-anchor="middle" textLength="3.8" lengthAdjust="spacingAndGlyphs"  stroke="#231f20" stroke-width="0.16">7</text>
<line x1="436.40" y1="108.30" x2="436.40" y2="111.00" stroke="#231f20" stroke-width="0.9" />
<text x="436.40" y="119.16" font-size="6.3" fill="#231f20" text-anchor="middle" textLength="7.6" lengthAdjust="spacingAndGlyphs"  stroke="#231f20" stroke-width="0.16">14</text>
<line x1="459.30" y1="108.30" x2="459.30" y2="111.00" stroke="#231f20" stroke-width="0.9" />
<text x="459.30" y="119.16" font-size="6.3" fill="#231f20" text-anchor="middle" textLength="7.6" lengthAdjust="spacingAndGlyphs"  stroke="#231f20" stroke-width="0.16">21</text>
<line x1="482.20" y1="108.30" x2="482.20" y2="111.00" stroke="#231f20" stroke-width="0.9" />
<text x="482.20" y="119.16" font-size="6.3" fill="#231f20" text-anchor="middle" textLength="7.6" lengthAdjust="spacingAndGlyphs"  stroke="#231f20" stroke-width="0.16">28</text>
<text x="429.90" y="130.34" font-size="8.2" fill="#231f20" text-anchor="middle" font-weight="bold" textLength="48.2" lengthAdjust="spacingAndGlyphs" >Culture time (days)</text>
<line x1="373.80" y1="39.60" x2="481.70" y2="39.60" stroke="#777" stroke-width="0.7" stroke-dasharray="1.8,1.8" />
<text transform="translate(346.40,73.7) rotate(-90)" font-size="6.3" fill="#231f20" stroke="#231f20" stroke-width="0.14" text-anchor="middle" textLength="62.3" lengthAdjust="spacingAndGlyphs">MNC <tspan >SF3B1</tspan> variant allele</text>
<text transform="translate(356.90,71.80) rotate(-90)" font-size="6.8" fill="#231f20" stroke="#231f20" stroke-width="0.12" text-anchor="middle" textLength="35" lengthAdjust="spacingAndGlyphs" >frequency (%)</text>
<clipPath id="clp293L"><rect x="370.9" y="38.1" width="10" height="40"/></clipPath>
<clipPath id="clp293R"><rect x="380.9" y="38.1" width="10" height="40"/></clipPath>
<g fill="#e6007e" clip-path="url(#clp293L)"><circle cx="380.90" cy="43.10" r="1.45"/><path d="M377.35,46.50 Q377.35,45.50 378.35,45.50 L383.45,45.50 Q384.45,45.50 384.45,46.50 L384.45,53.00 L383.10,53.00 L383.10,62.10 L381.10,62.10 L381.10,54.50 L380.70,54.50 L380.70,62.10 L378.70,62.10 L378.70,53.00 L377.35,53.00 Z"/></g>
<g fill="#29a9e0" clip-path="url(#clp293R)"><circle cx="380.90" cy="43.10" r="1.45"/><path d="M377.35,46.50 Q377.35,45.50 378.35,45.50 L383.45,45.50 Q384.45,45.50 384.45,46.50 L384.45,53.00 L383.10,53.00 L383.10,62.10 L381.10,62.10 L381.10,54.50 L380.70,54.50 L380.70,62.10 L378.70,62.10 L378.70,53.00 L377.35,53.00 Z"/></g>
<rect x="380.40" y="41.65" width="1" height="20.45" fill="#3a5a5a" opacity="0.35"/>
<text x="387.40" y="47.50" font-size="5.6" fill="#231f20" stroke="#231f20" stroke-width="0.2" textLength="14.5" lengthAdjust="spacingAndGlyphs" >83 y.o.</text>
<text x="387.40" y="53.96" font-size="5.2" fill="#5cb8e4" stroke="#5cb8e4" stroke-width="0.01" textLength="37.2" lengthAdjust="spacingAndGlyphs" >K666N VAF 27%</text>
<text x="387.40" y="60.86" font-size="5.2" fill="#e2359a" stroke="#e2359a" stroke-width="0.01" textLength="37.2" lengthAdjust="spacingAndGlyphs" >K700E VAF 29%</text>
<polyline points="390.60,71.40 482.20,60.00" fill="none" stroke="#4db3e3" stroke-width="0.75" stroke-linejoin="round" />
<polyline points="390.60,76.80 482.20,98.60" fill="none" stroke="#d4147a" stroke-width="0.75" stroke-linejoin="round" />
<circle cx="390.60" cy="71.40" r="0.80" fill="#1f7fb4" />
<circle cx="482.20" cy="60.00" r="0.80" fill="#1f7fb4" />
<circle cx="390.60" cy="76.80" r="0.80" fill="#d4147a" />
<circle cx="482.20" cy="98.60" r="0.80" fill="#d4147a" />
<line x1="457.40" y1="73.40" x2="464.60" y2="73.40" stroke="#29a9e0" stroke-width="0.9" />
<circle cx="461.00" cy="73.40" r="0.90" fill="#29a9e0" />
<text x="466.70" y="75.69" font-size="6.4" fill="#231f20" textLength="19.5" lengthAdjust="spacingAndGlyphs"  stroke="#231f20" stroke-width="0.16">K666N</text>
<line x1="457.40" y1="80.70" x2="464.60" y2="80.70" stroke="#d4147a" stroke-width="0.9" />
<circle cx="461.00" cy="80.70" r="0.90" fill="#d4147a" />
<text x="466.70" y="82.99" font-size="6.4" fill="#231f20" textLength="19.5" lengthAdjust="spacingAndGlyphs"  stroke="#231f20" stroke-width="0.16">K700E</text>
<text x="172.20" y="151.20" font-size="11" fill="#000" font-weight="bold" >D</text>
<text x="214.80" y="157.50" font-size="7.7" fill="#231f20" textLength="87.6" lengthAdjust="spacingAndGlyphs"  stroke="#231f20" stroke-width="0.16">Colony-forming unit assay</text>
<line x1="209.30" y1="167.30" x2="209.30" y2="218.60" stroke="#231f20" stroke-width="1.3" />
<line x1="209.30" y1="218.10" x2="308.00" y2="218.10" stroke="#231f20" stroke-width="1.3" />
<line x1="206.80" y1="217.60" x2="209.30" y2="217.60" stroke="#231f20" stroke-width="0.9" />
<line x1="206.80" y1="206.15" x2="209.30" y2="206.15" stroke="#231f20" stroke-width="0.9" />
<line x1="206.80" y1="194.70" x2="209.30" y2="194.70" stroke="#231f20" stroke-width="0.9" />
<line x1="206.80" y1="183.25" x2="209.30" y2="183.25" stroke="#231f20" stroke-width="0.9" />
<line x1="206.80" y1="171.80" x2="209.30" y2="171.80" stroke="#231f20" stroke-width="0.9" />
<text x="203.90" y="219.75" font-size="6.0" fill="#231f20" text-anchor="end" textLength="2.95" lengthAdjust="spacingAndGlyphs"  stroke="#231f20" stroke-width="0.16">0</text>
<text x="203.90" y="196.85" font-size="6.0" fill="#231f20" text-anchor="end" textLength="5.9" lengthAdjust="spacingAndGlyphs"  stroke="#231f20" stroke-width="0.16">50</text>
<text x="203.90" y="173.95" font-size="6.0" fill="#231f20" text-anchor="end" textLength="8.850000000000001" lengthAdjust="spacingAndGlyphs"  stroke="#231f20" stroke-width="0.16">100</text>
<rect x="213.20" y="190.12" width="6.80" height="27.48" fill="#f0920a" />
<rect x="213.20" y="174.09" width="6.80" height="16.03" fill="#29a9e0" />
<rect x="213.20" y="171.80" width="6.80" height="2.29" fill="#c9c9cd" />
<rect x="223.60" y="207.52" width="6.80" height="10.08" fill="#f0920a" />
<rect x="223.60" y="175.46" width="6.80" height="32.06" fill="#29a9e0" />
<rect x="223.60" y="171.80" width="6.80" height="3.66" fill="#c9c9cd" />
<rect x="237.80" y="215.31" width="6.80" height="2.29" fill="#f0920a" />
<rect x="237.80" y="175.01" width="6.80" height="40.30" fill="#29a9e0" />
<rect x="237.80" y="171.80" width="6.80" height="3.21" fill="#c9c9cd" />
<rect x="248.20" y="171.80" width="6.80" height="45.80" fill="#29a9e0" />
<rect x="262.80" y="189.20" width="6.80" height="28.40" fill="#f0920a" />
<rect x="262.80" y="171.80" width="6.80" height="17.40" fill="#c9c9cd" />
<rect x="273.20" y="207.98" width="6.80" height="9.62" fill="#f0920a" />
<rect x="273.20" y="202.49" width="6.80" height="5.50" fill="#29a9e0" />
<rect x="273.20" y="171.80" width="6.80" height="30.69" fill="#c9c9cd" />
<rect x="287.40" y="194.70" width="6.80" height="22.90" fill="#f0920a" />
<rect x="287.40" y="181.88" width="6.80" height="12.82" fill="#29a9e0" />
<rect x="287.40" y="171.80" width="6.80" height="10.08" fill="#c9c9cd" />
<rect x="297.80" y="212.10" width="6.80" height="5.50" fill="#f0920a" />
<rect x="297.80" y="190.12" width="6.80" height="21.98" fill="#29a9e0" />
<rect x="297.80" y="171.80" width="6.80" height="18.32" fill="#c9c9cd" />
<line x1="213.20" y1="169.80" x2="230.40" y2="169.80" stroke="#555" stroke-width="1.3" />
<text x="221.80" y="167.22" font-size="6.2" fill="#231f20" text-anchor="middle" textLength="13.6" lengthAdjust="spacingAndGlyphs"  stroke="#231f20" stroke-width="0.16">HSC</text>
<text x="216.60" y="229.46" font-size="6.3" fill="#231f20" text-anchor="middle" textLength="6.9" lengthAdjust="spacingAndGlyphs"  stroke="#231f20" stroke-width="0.16">23</text>
<text x="227.00" y="229.46" font-size="6.3" fill="#231f20" text-anchor="middle" textLength="6.9" lengthAdjust="spacingAndGlyphs"  stroke="#231f20" stroke-width="0.16">57</text>
<line x1="216.60" y1="218.10" x2="216.60" y2="220.30" stroke="#231f20" stroke-width="0.8" />
<line x1="227.00" y1="218.10" x2="227.00" y2="220.30" stroke="#231f20" stroke-width="0.8" />
<line x1="237.80" y1="169.80" x2="255.00" y2="169.80" stroke="#555" stroke-width="1.3" />
<text x="246.40" y="167.22" font-size="6.2" fill="#231f20" text-anchor="middle" textLength="13.6" lengthAdjust="spacingAndGlyphs"  stroke="#231f20" stroke-width="0.16">MPP</text>
<text x="241.20" y="229.46" font-size="6.3" fill="#231f20" text-anchor="middle" textLength="6.9" lengthAdjust="spacingAndGlyphs"  stroke="#231f20" stroke-width="0.16">23</text>
<text x="251.60" y="229.46" font-size="6.3" fill="#231f20" text-anchor="middle" textLength="6.9" lengthAdjust="spacingAndGlyphs"  stroke="#231f20" stroke-width="0.16">57</text>
<line x1="241.20" y1="218.10" x2="241.20" y2="220.30" stroke="#231f20" stroke-width="0.8" />
<line x1="251.60" y1="218.10" x2="251.60" y2="220.30" stroke="#231f20" stroke-width="0.8" />
<line x1="262.80" y1="169.80" x2="280.00" y2="169.80" stroke="#555" stroke-width="1.3" />
<text x="271.40" y="167.22" font-size="6.2" fill="#231f20" text-anchor="middle" textLength="13.6" lengthAdjust="spacingAndGlyphs"  stroke="#231f20" stroke-width="0.16">GMP</text>
<text x="266.20" y="229.46" font-size="6.3" fill="#231f20" text-anchor="middle" textLength="6.9" lengthAdjust="spacingAndGlyphs"  stroke="#231f20" stroke-width="0.16">23</text>
<text x="276.60" y="229.46" font-size="6.3" fill="#231f20" text-anchor="middle" textLength="6.9" lengthAdjust="spacingAndGlyphs"  stroke="#231f20" stroke-width="0.16">57</text>
<line x1="266.20" y1="218.10" x2="266.20" y2="220.30" stroke="#231f20" stroke-width="0.8" />
<line x1="276.60" y1="218.10" x2="276.60" y2="220.30" stroke="#231f20" stroke-width="0.8" />
<line x1="287.40" y1="169.80" x2="304.60" y2="169.80" stroke="#555" stroke-width="1.3" />
<text x="296.00" y="167.22" font-size="6.2" fill="#231f20" text-anchor="middle" textLength="13.6" lengthAdjust="spacingAndGlyphs"  stroke="#231f20" stroke-width="0.16">MEP</text>
<text x="290.80" y="229.46" font-size="6.3" fill="#231f20" text-anchor="middle" textLength="6.9" lengthAdjust="spacingAndGlyphs"  stroke="#231f20" stroke-width="0.16">23</text>
<text x="301.20" y="229.46" font-size="6.3" fill="#231f20" text-anchor="middle" textLength="6.9" lengthAdjust="spacingAndGlyphs"  stroke="#231f20" stroke-width="0.16">57</text>
<line x1="290.80" y1="218.10" x2="290.80" y2="220.30" stroke="#231f20" stroke-width="0.8" />
<line x1="301.20" y1="218.10" x2="301.20" y2="220.30" stroke="#231f20" stroke-width="0.8" />
<text x="258.50" y="240.23" font-size="7.9" fill="#231f20" text-anchor="middle" font-weight="bold" textLength="54.7" lengthAdjust="spacingAndGlyphs" >Months post-diagnosis</text>
<text transform="translate(177.20,192.00) rotate(-90)" font-size="6.7" fill="#231f20" stroke="#231f20" stroke-width="0.15" text-anchor="middle" textLength="48.5" lengthAdjust="spacingAndGlyphs" >Colony-forming unit</text>
<text transform="translate(184.70,194.80) rotate(-90)" font-size="6.7" fill="#231f20" stroke="#231f20" stroke-width="0.15" text-anchor="middle" textLength="56" lengthAdjust="spacingAndGlyphs" >Genotype frequency (%)</text>
<rect x="218.50" y="249.30" width="4.50" height="4.50" fill="#f0920a" />
<text x="225.00" y="253.65" font-size="6.0" fill="#231f20" textLength="20" lengthAdjust="spacingAndGlyphs"  stroke="#231f20" stroke-width="0.16">N626D</text>
<rect x="250.30" y="249.30" width="4.50" height="4.50" fill="#29a9e0" />
<text x="257.20" y="253.65" font-size="6.0" fill="#231f20" textLength="19" lengthAdjust="spacingAndGlyphs"  stroke="#231f20" stroke-width="0.16">K666N</text>
<rect x="282.60" y="249.30" width="4.50" height="4.50" fill="#c9c9cd" />
<text x="288.80" y="253.65" font-size="6.0" fill="#231f20" textLength="10.4" lengthAdjust="spacingAndGlyphs"  stroke="#231f20" stroke-width="0.16">WT</text>
<text x="339.80" y="151.40" font-size="11" fill="#000" font-weight="bold" >E</text>
<text x="379.00" y="157.60" font-size="7.7" fill="#231f20" textLength="87.6" lengthAdjust="spacingAndGlyphs"  stroke="#231f20" stroke-width="0.16">Colony-forming unit assay</text>
<line x1="377.60" y1="171.50" x2="377.60" y2="218.30" stroke="#231f20" stroke-width="1.3" />
<line x1="377.60" y1="217.80" x2="469.20" y2="217.80" stroke="#231f20" stroke-width="1.3" />
<line x1="375.10" y1="217.60" x2="377.60" y2="217.60" stroke="#231f20" stroke-width="0.9" />
<line x1="375.10" y1="207.05" x2="377.60" y2="207.05" stroke="#231f20" stroke-width="0.9" />
<line x1="375.10" y1="196.50" x2="377.60" y2="196.50" stroke="#231f20" stroke-width="0.9" />
<line x1="375.10" y1="185.95" x2="377.60" y2="185.95" stroke="#231f20" stroke-width="0.9" />
<line x1="375.10" y1="175.40" x2="377.60" y2="175.40" stroke="#231f20" stroke-width="0.9" />
<text x="373.90" y="219.75" font-size="6.0" fill="#231f20" text-anchor="end" textLength="2.95" lengthAdjust="spacingAndGlyphs"  stroke="#231f20" stroke-width="0.16">0</text>
<text x="373.90" y="198.65" font-size="6.0" fill="#231f20" text-anchor="end" textLength="5.9" lengthAdjust="spacingAndGlyphs"  stroke="#231f20" stroke-width="0.16">50</text>
<text x="373.90" y="177.55" font-size="6.0" fill="#231f20" text-anchor="end" textLength="8.850000000000001" lengthAdjust="spacingAndGlyphs"  stroke="#231f20" stroke-width="0.16">100</text>
<rect x="383.50" y="207.89" width="11.00" height="9.71" fill="#e6007e" />
<rect x="383.50" y="175.40" width="11.00" height="32.49" fill="#29a9e0" />
<line x1="389.00" y1="217.80" x2="389.00" y2="220.00" stroke="#231f20" stroke-width="0.8" />
<text x="389.00" y="228.72" font-size="6.2" fill="#231f20" text-anchor="middle" textLength="13.2" lengthAdjust="spacingAndGlyphs"  stroke="#231f20" stroke-width="0.16">HSC</text>
<rect x="406.10" y="215.49" width="11.00" height="2.11" fill="#e6007e" />
<rect x="406.10" y="178.78" width="11.00" height="36.71" fill="#29a9e0" />
<rect x="406.10" y="175.40" width="11.00" height="3.38" fill="#c9c9cd" />
<line x1="411.60" y1="217.80" x2="411.60" y2="220.00" stroke="#231f20" stroke-width="0.8" />
<text x="411.60" y="228.72" font-size="6.2" fill="#231f20" text-anchor="middle" textLength="13.2" lengthAdjust="spacingAndGlyphs"  stroke="#231f20" stroke-width="0.16">MPP</text>
<rect x="428.70" y="203.67" width="11.00" height="13.93" fill="#29a9e0" />
<rect x="428.70" y="175.40" width="11.00" height="28.27" fill="#c9c9cd" />
<line x1="434.20" y1="217.80" x2="434.20" y2="220.00" stroke="#231f20" stroke-width="0.8" />
<text x="434.20" y="228.72" font-size="6.2" fill="#231f20" text-anchor="middle" textLength="13.2" lengthAdjust="spacingAndGlyphs"  stroke="#231f20" stroke-width="0.16">GMP</text>
<rect x="451.10" y="199.88" width="11.00" height="17.72" fill="#29a9e0" />
<rect x="451.10" y="175.40" width="11.00" height="24.48" fill="#c9c9cd" />
<line x1="456.60" y1="217.80" x2="456.60" y2="220.00" stroke="#231f20" stroke-width="0.8" />
<text x="456.60" y="228.72" font-size="6.2" fill="#231f20" text-anchor="middle" textLength="13.2" lengthAdjust="spacingAndGlyphs"  stroke="#231f20" stroke-width="0.16">MEP</text>
<text x="423.20" y="240.33" font-size="7.9" fill="#231f20" text-anchor="middle" font-weight="bold" textLength="53.5" lengthAdjust="spacingAndGlyphs" >Sorted cell population</text>
<text transform="translate(345.80,190.40) rotate(-90)" font-size="6.7" fill="#231f20" stroke="#231f20" stroke-width="0.15" text-anchor="middle" textLength="50" lengthAdjust="spacingAndGlyphs" >Colony-forming unit</text>
<text transform="translate(354.20,193.50) rotate(-90)" font-size="6.7" fill="#231f20" stroke="#231f20" stroke-width="0.15" text-anchor="middle" textLength="56.5" lengthAdjust="spacingAndGlyphs" >Genotype frequency (%)</text>
<rect x="383.00" y="248.80" width="4.20" height="4.20" fill="#e6007e" />
<text x="389.20" y="253.05" font-size="6.0" fill="#231f20" textLength="18" lengthAdjust="spacingAndGlyphs"  stroke="#231f20" stroke-width="0.16">K700E</text>
<rect x="415.40" y="248.80" width="4.20" height="4.20" fill="#29a9e0" />
<text x="421.90" y="253.05" font-size="6.0" fill="#231f20" textLength="19" lengthAdjust="spacingAndGlyphs"  stroke="#231f20" stroke-width="0.16">K666N</text>
<rect x="447.50" y="248.80" width="4.20" height="4.20" fill="#c9c9cd" />
<text x="453.40" y="253.05" font-size="6.0" fill="#231f20" textLength="10.2" lengthAdjust="spacingAndGlyphs"  stroke="#231f20" stroke-width="0.16">WT</text>
<text x="172.70" y="272.00" font-size="11" fill="#000" font-weight="bold" >F</text>
<text x="214.30" y="279.30" font-size="7.7" fill="#231f20" textLength="92.3" lengthAdjust="spacingAndGlyphs"  stroke="#231f20" stroke-width="0.16">Colony whole genome seq.</text>
<text x="215.50" y="289.08" font-size="5.8" fill="#231f20" text-anchor="middle" textLength="39.4" lengthAdjust="spacingAndGlyphs"  stroke="#231f20" stroke-width="0.16">Ultrametric tree</text>
<line x1="172.70" y1="291.20" x2="251.50" y2="291.20" stroke="#d0d0d0" stroke-width="0.7" />
<line x1="172.30" y1="291.20" x2="172.30" y2="370.00" stroke="#e0e0e0" stroke-width="0.6" />
<line x1="174.95" y1="291.20" x2="174.95" y2="370.00" stroke="#e0e0e0" stroke-width="0.6" />
<line x1="177.60" y1="291.20" x2="177.60" y2="370.00" stroke="#e0e0e0" stroke-width="0.6" />
<line x1="225.30" y1="291.20" x2="225.30" y2="370.00" stroke="#e0e0e0" stroke-width="0.6" />
<line x1="227.95" y1="291.20" x2="227.95" y2="370.00" stroke="#e0e0e0" stroke-width="0.6" />
<line x1="230.60" y1="291.20" x2="230.60" y2="370.00" stroke="#e0e0e0" stroke-width="0.6" />
<line x1="233.25" y1="291.20" x2="233.25" y2="370.00" stroke="#e0e0e0" stroke-width="0.6" />
<line x1="235.90" y1="291.20" x2="235.90" y2="370.00" stroke="#e0e0e0" stroke-width="0.6" />
<line x1="238.55" y1="291.20" x2="238.55" y2="370.00" stroke="#e0e0e0" stroke-width="0.6" />
<line x1="241.20" y1="291.20" x2="241.20" y2="370.00" stroke="#e0e0e0" stroke-width="0.6" />
<line x1="243.85" y1="291.20" x2="243.85" y2="370.00" stroke="#e0e0e0" stroke-width="0.6" />
<line x1="246.50" y1="291.20" x2="246.50" y2="370.00" stroke="#e0e0e0" stroke-width="0.6" />
<line x1="249.15" y1="291.20" x2="249.15" y2="370.00" stroke="#e0e0e0" stroke-width="0.6" />
<line x1="229.60" y1="312.50" x2="232.10" y2="312.50" stroke="#d0d0d0" stroke-width="0.6" />
<line x1="233.25" y1="291.20" x2="233.25" y2="312.50" stroke="#d0d0d0" stroke-width="0.6" />
<line x1="193.60" y1="291.20" x2="193.60" y2="326.50" stroke="#cfcfcf" stroke-width="0.6" />
<line x1="216.50" y1="291.20" x2="216.50" y2="330.50" stroke="#cfcfcf" stroke-width="0.6" />
<text x="255.60" y="292.19" font-size="3.6" fill="#231f20" text-anchor="middle" textLength="5.2" lengthAdjust="spacingAndGlyphs"  stroke="#231f20" stroke-width="0.16">Fib</text>
<line x1="193.60" y1="328.50" x2="193.60" y2="338.50" stroke="#b8d8ea" stroke-width="0.6" stroke-dasharray="0.7,0.7" />
<line x1="188.30" y1="338.50" x2="199.60" y2="338.50" stroke="#7cc4e8" stroke-width="0.7" />
<line x1="188.30" y1="338.50" x2="188.30" y2="345.60" stroke="#7cc4e8" stroke-width="0.7" />
<line x1="199.60" y1="338.50" x2="199.60" y2="343.30" stroke="#7cc4e8" stroke-width="0.7" />
<line x1="180.25" y1="345.60" x2="191.10" y2="345.60" stroke="#7cc4e8" stroke-width="0.7" />
<line x1="182.90" y1="347.50" x2="185.55" y2="347.50" stroke="#7cc4e8" stroke-width="0.7" />
<line x1="188.20" y1="347.80" x2="190.85" y2="347.80" stroke="#7cc4e8" stroke-width="0.7" />
<line x1="180.25" y1="345.60" x2="180.25" y2="370.00" stroke="#7cc4e8" stroke-width="0.7" />
<line x1="182.90" y1="347.50" x2="182.90" y2="370.00" stroke="#7cc4e8" stroke-width="0.7" />
<line x1="185.55" y1="347.50" x2="185.55" y2="370.00" stroke="#7cc4e8" stroke-width="0.7" />
<line x1="183.90" y1="345.60" x2="183.90" y2="347.50" stroke="#7cc4e8" stroke-width="0.7" />
<line x1="188.30" y1="345.60" x2="188.30" y2="347.80" stroke="#7cc4e8" stroke-width="0.7" />
<line x1="188.20" y1="347.80" x2="188.20" y2="370.00" stroke="#7cc4e8" stroke-width="0.7" />
<line x1="190.85" y1="347.80" x2="190.85" y2="370.00" stroke="#7cc4e8" stroke-width="0.7" />
<line x1="191.10" y1="345.60" x2="191.10" y2="370.00" stroke="#7cc4e8" stroke-width="0.7" />
<line x1="193.50" y1="343.30" x2="204.10" y2="343.30" stroke="#7cc4e8" stroke-width="0.7" />
<line x1="196.15" y1="344.60" x2="201.45" y2="344.60" stroke="#7cc4e8" stroke-width="0.7" />
<line x1="193.50" y1="343.30" x2="193.50" y2="370.00" stroke="#7cc4e8" stroke-width="0.7" />
<line x1="204.10" y1="343.30" x2="204.10" y2="370.00" stroke="#7cc4e8" stroke-width="0.7" />
<line x1="196.15" y1="344.60" x2="196.15" y2="370.00" stroke="#7cc4e8" stroke-width="0.7" />
<line x1="198.80" y1="344.60" x2="198.80" y2="370.00" stroke="#7cc4e8" stroke-width="0.7" />
<line x1="201.45" y1="344.60" x2="201.45" y2="370.00" stroke="#7cc4e8" stroke-width="0.7" />
<polygon points="193.60,326.00 192.40,328.40 194.80,328.40" fill="#2a6fa0" />
<text x="184.20" y="319.40" font-size="4.2" fill="#333" text-anchor="middle" textLength="12.8" lengthAdjust="spacingAndGlyphs"  stroke="#333" stroke-width="0.16">SF3B1</text>
<text x="184.20" y="324.20" font-size="4.2" fill="#29a9e0" text-anchor="middle" textLength="12.8" lengthAdjust="spacingAndGlyphs"  stroke="#29a9e0" stroke-width="0.16">K666N</text>
<line x1="216.50" y1="332.50" x2="216.50" y2="350.20" stroke="#d8c8b0" stroke-width="0.6" />
<line x1="206.75" y1="350.20" x2="222.65" y2="350.20" stroke="#f6bd6a" stroke-width="0.7" />
<line x1="209.40" y1="351.60" x2="220.00" y2="351.60" stroke="#f6bd6a" stroke-width="0.7" />
<line x1="212.05" y1="353.00" x2="217.35" y2="353.00" stroke="#f6bd6a" stroke-width="0.7" />
<line x1="206.75" y1="350.20" x2="206.75" y2="370.00" stroke="#f6bd6a" stroke-width="0.7" />
<line x1="209.40" y1="351.60" x2="209.40" y2="370.00" stroke="#f6bd6a" stroke-width="0.7" />
<line x1="212.05" y1="353.00" x2="212.05" y2="370.00" stroke="#f6bd6a" stroke-width="0.7" />
<line x1="214.70" y1="353.00" x2="214.70" y2="370.00" stroke="#f6bd6a" stroke-width="0.7" />
<line x1="217.35" y1="353.00" x2="217.35" y2="370.00" stroke="#f6bd6a" stroke-width="0.7" />
<line x1="220.00" y1="351.60" x2="220.00" y2="370.00" stroke="#f6bd6a" stroke-width="0.7" />
<line x1="222.65" y1="350.20" x2="222.65" y2="370.00" stroke="#f6bd6a" stroke-width="0.7" />
<polygon points="216.50,330.20 215.30,332.60 217.70,332.60" fill="#b85a1a" />
<text x="208.60" y="325.10" font-size="4.2" fill="#333" text-anchor="middle" textLength="12.8" lengthAdjust="spacingAndGlyphs"  stroke="#333" stroke-width="0.16">SF3B1</text>
<text x="208.60" y="329.50" font-size="4.2" fill="#f0920a" text-anchor="middle" textLength="12.8" lengthAdjust="spacingAndGlyphs"  stroke="#f0920a" stroke-width="0.16">N626D</text>
<rect x="171.30" y="370.80" width="2.00" height="2.00" fill="#c9ad74" />
<rect x="171.30" y="373.90" width="2.00" height="2.00" fill="#2a2e48" />
<rect x="173.95" y="370.80" width="2.00" height="2.00" fill="#c9ad74" />
<rect x="173.95" y="373.90" width="2.00" height="2.00" fill="#6a6080" />
<rect x="176.60" y="370.80" width="2.00" height="2.00" fill="#a8a080" />
<rect x="176.60" y="373.90" width="2.00" height="2.00" fill="#8a1a2a" />
<rect x="179.25" y="370.80" width="2.00" height="2.00" fill="#262233" />
<rect x="179.25" y="373.90" width="2.00" height="2.00" fill="#1e5a58" />
<rect x="181.90" y="370.80" width="2.00" height="2.00" fill="#3a2a48" />
<rect x="181.90" y="373.90" width="2.00" height="2.00" fill="#2a7a70" />
<rect x="184.55" y="370.80" width="2.00" height="2.00" fill="#c6c2c8" />
<rect x="184.55" y="373.90" width="2.00" height="2.00" fill="#d05060" />
<rect x="187.20" y="370.80" width="2.00" height="2.00" fill="#8a8890" />
<rect x="187.20" y="373.90" width="2.00" height="2.00" fill="#8a1a2a" />
<rect x="189.85" y="370.80" width="2.00" height="2.00" fill="#3a2a48" />
<rect x="189.85" y="373.90" width="2.00" height="2.00" fill="#1e5a58" />
<rect x="192.50" y="370.80" width="2.00" height="2.00" fill="#111" />
<rect x="192.50" y="373.90" width="2.00" height="2.00" fill="#2a7a70" />
<rect x="195.15" y="370.80" width="2.00" height="2.00" fill="#262233" />
<rect x="195.15" y="373.90" width="2.00" height="2.00" fill="#2a2e48" />
<rect x="197.80" y="370.80" width="2.00" height="2.00" fill="#d8b8c4" />
<rect x="197.80" y="373.90" width="2.00" height="2.00" fill="#904038" />
<rect x="200.45" y="370.80" width="2.00" height="2.00" fill="#5a1a24" />
<rect x="200.45" y="373.90" width="2.00" height="2.00" fill="#8a1a2a" />
<rect x="203.10" y="370.80" width="2.00" height="2.00" fill="#c6c2c8" />
<rect x="203.10" y="373.90" width="2.00" height="2.00" fill="#a07070" />
<rect x="205.75" y="370.80" width="2.00" height="2.00" fill="#262233" />
<rect x="205.75" y="373.90" width="2.00" height="2.00" fill="#2a7a70" />
<rect x="208.40" y="370.80" width="2.00" height="2.00" fill="#262233" />
<rect x="208.40" y="373.90" width="2.00" height="2.00" fill="#8a1a2a" />
<rect x="211.05" y="370.80" width="2.00" height="2.00" fill="#262233" />
<rect x="211.05" y="373.90" width="2.00" height="2.00" fill="#8a1a2a" />
<rect x="213.70" y="370.80" width="2.00" height="2.00" fill="#4a3028" />
<rect x="213.70" y="373.90" width="2.00" height="2.00" fill="#904038" />
<rect x="216.35" y="370.80" width="2.00" height="2.00" fill="#c9ad74" />
<rect x="216.35" y="373.90" width="2.00" height="2.00" fill="#8a1a2a" />
<rect x="219.00" y="370.80" width="2.00" height="2.00" fill="#c9ad74" />
<rect x="219.00" y="373.90" width="2.00" height="2.00" fill="#c02838" />
<rect x="221.65" y="370.80" width="2.00" height="2.00" fill="#c9ad74" />
<rect x="221.65" y="373.90" width="2.00" height="2.00" fill="#c02838" />
<rect x="224.30" y="370.80" width="2.00" height="2.00" fill="#b8a890" />
<rect x="224.30" y="373.90" width="2.00" height="2.00" fill="#8a1a2a" />
<rect x="226.95" y="370.80" width="2.00" height="2.00" fill="#c9ad74" />
<rect x="226.95" y="373.90" width="2.00" height="2.00" fill="#8a1a2a" />
<rect x="229.60" y="370.80" width="2.00" height="2.00" fill="#c9ad74" />
<rect x="229.60" y="373.90" width="2.00" height="2.00" fill="#904038" />
<rect x="232.25" y="370.80" width="2.00" height="2.00" fill="#c9ad74" />
<rect x="232.25" y="373.90" width="2.00" height="2.00" fill="#8a1a2a" />
<rect x="234.90" y="370.80" width="2.00" height="2.00" fill="#b0a090" />
<rect x="234.90" y="373.90" width="2.00" height="2.00" fill="#6a4868" />
<rect x="237.55" y="370.80" width="2.00" height="2.00" fill="#4a3028" />
<rect x="237.55" y="373.90" width="2.00" height="2.00" fill="#6a6080" />
<rect x="240.20" y="370.80" width="2.00" height="2.00" fill="#111" />
<rect x="240.20" y="373.90" width="2.00" height="2.00" fill="#1e5a58" />
<rect x="242.85" y="370.80" width="2.00" height="2.00" fill="#c0a8b0" />
<rect x="242.85" y="373.90" width="2.00" height="2.00" fill="#8a1a2a" />
<rect x="245.50" y="370.80" width="2.00" height="2.00" fill="#d9a080" />
<rect x="245.50" y="373.90" width="2.00" height="2.00" fill="#c02838" />
<rect x="248.15" y="370.80" width="2.00" height="2.00" fill="#d9a080" />
<rect x="248.15" y="373.90" width="2.00" height="2.00" fill="#c02838" />
<circle cx="177.80" cy="382.30" r="2.10" fill="#000" />
<text x="183.00" y="384.56" font-size="6.3" fill="#231f20" textLength="13.3" lengthAdjust="spacingAndGlyphs"  stroke="#231f20" stroke-width="0.16">HSC</text>
<rect x="175.60" y="388.00" width="4.40" height="4.40" fill="#f0920a" />
<text x="183.00" y="392.46" font-size="6.3" fill="#231f20" textLength="13.3" lengthAdjust="spacingAndGlyphs"  stroke="#231f20" stroke-width="0.16">MEP</text>
<polygon points="177.80,395.70 179.90,397.80 177.80,399.90 175.70,397.80" fill="#8c7fc0" />
<text x="183.00" y="400.06" font-size="6.3" fill="#231f20" textLength="13.3" lengthAdjust="spacingAndGlyphs"  stroke="#231f20" stroke-width="0.16">MPP</text>
<circle cx="206.30" cy="382.30" r="2.10" fill="#c8202c" />
<text x="211.50" y="384.56" font-size="6.3" fill="#231f20" textLength="22.7" lengthAdjust="spacingAndGlyphs"  stroke="#231f20" stroke-width="0.16">23 MPD</text>
<circle cx="206.30" cy="390.20" r="2.10" fill="#1c3f6e" />
<text x="211.50" y="392.46" font-size="6.3" fill="#231f20" textLength="22.7" lengthAdjust="spacingAndGlyphs"  stroke="#231f20" stroke-width="0.16">57 MPD</text>
<text x="204.60" y="400.06" font-size="6.3" fill="#231f20" textLength="36.6" lengthAdjust="spacingAndGlyphs"  stroke="#231f20" stroke-width="0.16">Fib: Fibroblast</text>
<line x1="263.20" y1="289.50" x2="263.20" y2="373.00" stroke="#231f20" stroke-width="1.3" />
<line x1="261.00" y1="291.00" x2="263.20" y2="291.00" stroke="#231f20" stroke-width="0.9" />
<text x="268.30" y="293.15" font-size="6.0" fill="#231f20" textLength="3.3" lengthAdjust="spacingAndGlyphs"  stroke="#231f20" stroke-width="0.16">0</text>
<line x1="261.00" y1="302.30" x2="263.20" y2="302.30" stroke="#231f20" stroke-width="0.9" />
<text x="268.30" y="304.45" font-size="6.0" fill="#231f20" textLength="6.6" lengthAdjust="spacingAndGlyphs"  stroke="#231f20" stroke-width="0.16">10</text>
<line x1="261.00" y1="313.60" x2="263.20" y2="313.60" stroke="#231f20" stroke-width="0.9" />
<text x="268.30" y="315.75" font-size="6.0" fill="#231f20" textLength="6.6" lengthAdjust="spacingAndGlyphs"  stroke="#231f20" stroke-width="0.16">20</text>
<line x1="261.00" y1="324.90" x2="263.20" y2="324.90" stroke="#231f20" stroke-width="0.9" />
<text x="268.30" y="327.05" font-size="6.0" fill="#231f20" textLength="6.6" lengthAdjust="spacingAndGlyphs"  stroke="#231f20" stroke-width="0.16">30</text>
<line x1="261.00" y1="336.20" x2="263.20" y2="336.20" stroke="#231f20" stroke-width="0.9" />
<text x="268.30" y="338.35" font-size="6.0" fill="#231f20" textLength="6.6" lengthAdjust="spacingAndGlyphs"  stroke="#231f20" stroke-width="0.16">40</text>
<line x1="261.00" y1="347.50" x2="263.20" y2="347.50" stroke="#231f20" stroke-width="0.9" />
<text x="268.30" y="349.65" font-size="6.0" fill="#231f20" textLength="6.6" lengthAdjust="spacingAndGlyphs"  stroke="#231f20" stroke-width="0.16">50</text>
<line x1="261.00" y1="358.80" x2="263.20" y2="358.80" stroke="#231f20" stroke-width="0.9" />
<text x="268.30" y="360.95" font-size="6.0" fill="#231f20" textLength="6.6" lengthAdjust="spacingAndGlyphs"  stroke="#231f20" stroke-width="0.16">60</text>
<line x1="261.00" y1="370.10" x2="263.20" y2="370.10" stroke="#231f20" stroke-width="0.9" />
<text x="268.30" y="372.25" font-size="6.0" fill="#231f20" textLength="6.6" lengthAdjust="spacingAndGlyphs"  stroke="#231f20" stroke-width="0.16">70</text>
<text x="265.40" y="382.02" font-size="7.6" fill="#231f20" text-anchor="middle" font-weight="bold" textLength="8.4" lengthAdjust="spacingAndGlyphs" >Age</text>
<line x1="306.20" y1="289.00" x2="306.20" y2="376.40" stroke="#231f20" stroke-width="1.3" />
<line x1="306.20" y1="375.90" x2="348.50" y2="375.90" stroke="#231f20" stroke-width="1.3" />
<line x1="303.70" y1="375.90" x2="306.20" y2="375.90" stroke="#231f20" stroke-width="0.9" />
<text x="301.80" y="378.05" font-size="6.0" fill="#231f20" text-anchor="end" textLength="3.3" lengthAdjust="spacingAndGlyphs"  stroke="#231f20" stroke-width="0.16">0</text>
<line x1="303.70" y1="363.66" x2="306.20" y2="363.66" stroke="#231f20" stroke-width="0.9" />
<text x="301.80" y="365.81" font-size="6.0" fill="#231f20" text-anchor="end" textLength="6.6" lengthAdjust="spacingAndGlyphs"  stroke="#231f20" stroke-width="0.16">10</text>
<line x1="303.70" y1="351.42" x2="306.20" y2="351.42" stroke="#231f20" stroke-width="0.9" />
<text x="301.80" y="353.57" font-size="6.0" fill="#231f20" text-anchor="end" textLength="6.6" lengthAdjust="spacingAndGlyphs"  stroke="#231f20" stroke-width="0.16">20</text>
<line x1="303.70" y1="339.18" x2="306.20" y2="339.18" stroke="#231f20" stroke-width="0.9" />
<text x="301.80" y="341.33" font-size="6.0" fill="#231f20" text-anchor="end" textLength="6.6" lengthAdjust="spacingAndGlyphs"  stroke="#231f20" stroke-width="0.16">30</text>
<line x1="303.70" y1="326.94" x2="306.20" y2="326.94" stroke="#231f20" stroke-width="0.9" />
<text x="301.80" y="329.09" font-size="6.0" fill="#231f20" text-anchor="end" textLength="6.6" lengthAdjust="spacingAndGlyphs"  stroke="#231f20" stroke-width="0.16">40</text>
<line x1="303.70" y1="314.70" x2="306.20" y2="314.70" stroke="#231f20" stroke-width="0.9" />
<text x="301.80" y="316.85" font-size="6.0" fill="#231f20" text-anchor="end" textLength="6.6" lengthAdjust="spacingAndGlyphs"  stroke="#231f20" stroke-width="0.16">50</text>
<line x1="303.70" y1="302.46" x2="306.20" y2="302.46" stroke="#231f20" stroke-width="0.9" />
<text x="301.80" y="304.61" font-size="6.0" fill="#231f20" text-anchor="end" textLength="6.6" lengthAdjust="spacingAndGlyphs"  stroke="#231f20" stroke-width="0.16">60</text>
<line x1="303.70" y1="290.22" x2="306.20" y2="290.22" stroke="#231f20" stroke-width="0.9" />
<text x="301.80" y="292.37" font-size="6.0" fill="#231f20" text-anchor="end" textLength="6.6" lengthAdjust="spacingAndGlyphs"  stroke="#231f20" stroke-width="0.16">70</text>
<line x1="306.20" y1="297.56" x2="347.00" y2="297.56" stroke="#111" stroke-width="0.9" stroke-dasharray="1.8,1.4" />
<text x="333.50" y="296.45" font-size="6.0" fill="#231f20" text-anchor="middle" textLength="25.8" lengthAdjust="spacingAndGlyphs"  stroke="#231f20" stroke-width="0.16">Diagnosis</text>
<pattern id="hatchO" width="3" height="3" patternUnits="userSpaceOnUse"><rect width="3" height="3" fill="#f5a21f"/><rect width="1.5" height="1.5" fill="#d07808"/><rect x="1.5" y="1.5" width="1.5" height="1.5" fill="#d07808"/></pattern>
<pattern id="hatchB" width="3" height="3" patternUnits="userSpaceOnUse"><rect width="3" height="3" fill="#40b6ea"/><rect width="1.5" height="1.5" fill="#1d88c2"/><rect x="1.5" y="1.5" width="1.5" height="1.5" fill="#1d88c2"/></pattern>
<pattern id="hatchM" width="3" height="3" patternUnits="userSpaceOnUse"><rect width="3" height="3" fill="#ec1a90"/><rect width="1.5" height="1.5" fill="#c0006a"/><rect x="1.5" y="1.5" width="1.5" height="1.5" fill="#c0006a"/></pattern>
<rect x="310.90" y="312.80" width="15.00" height="62.50" fill="url(#hatchO)" />
<rect x="330.10" y="324.90" width="14.40" height="50.40" fill="url(#hatchB)" />
<line x1="318.40" y1="308.30" x2="318.40" y2="317.60" stroke="#4a3a30" stroke-width="0.9" />
<line x1="337.30" y1="319.50" x2="337.30" y2="331.70" stroke="#2a3a48" stroke-width="0.9" />
<line x1="318.40" y1="375.90" x2="318.40" y2="378.30" stroke="#231f20" stroke-width="0.8" />
<line x1="337.30" y1="375.90" x2="337.30" y2="378.30" stroke="#231f20" stroke-width="0.8" />
<text transform="translate(321.40,384.60) rotate(-45)" font-size="6.3" fill="#231f20" text-anchor="end" textLength="19.5" lengthAdjust="spacingAndGlyphs"  stroke="#231f20" stroke-width="0.16">N626D</text>
<text transform="translate(340.40,384.60) rotate(-45)" font-size="6.3" fill="#231f20" text-anchor="end" textLength="19.3" lengthAdjust="spacingAndGlyphs"  stroke="#231f20" stroke-width="0.16">K666N</text>
<text transform="translate(289.6,331.4) rotate(-90)" font-size="6.8" fill="#231f20" stroke="#231f20" stroke-width="0.15" text-anchor="middle" textLength="87" lengthAdjust="spacingAndGlyphs">Age estimate of <tspan font-style="italic">SF3B1</tspan><tspan font-size="4" dy="-2.4">mt</tspan><tspan dy="2.4"> acquisition</tspan></text>
<text x="367.50" y="272.80" font-size="11" fill="#000" font-weight="bold" >G</text>
<text x="393.10" y="279.20" font-size="7.7" fill="#231f20" textLength="92.3" lengthAdjust="spacingAndGlyphs"  stroke="#231f20" stroke-width="0.16">Colony whole genome seq.</text>
<text x="398.00" y="288.58" font-size="5.8" fill="#231f20" text-anchor="middle" textLength="40" lengthAdjust="spacingAndGlyphs"  stroke="#231f20" stroke-width="0.16">Ultrametric tree</text>
<text x="372.40" y="296.33" font-size="4.0" fill="#333" text-anchor="middle" textLength="11" lengthAdjust="spacingAndGlyphs"  stroke="#333" stroke-width="0.16">T cells</text>
<line x1="367.00" y1="290.90" x2="418.50" y2="290.90" stroke="#d4d4d4" stroke-width="0.7" />
<polyline points="388.00,296.60 404.00,296.60 409.00,294.20" fill="none" stroke="#e0e0e0" stroke-width="0.6" stroke-linejoin="round" />
<line x1="409.00" y1="290.90" x2="409.00" y2="294.20" stroke="#e0e0e0" stroke-width="0.6" />
<line x1="388.00" y1="296.60" x2="388.00" y2="376.00" stroke="#e0e0e0" stroke-width="0.6" />
<line x1="392.00" y1="296.60" x2="392.00" y2="376.00" stroke="#e0e0e0" stroke-width="0.6" />
<line x1="400.20" y1="296.60" x2="400.20" y2="376.00" stroke="#e0e0e0" stroke-width="0.6" />
<line x1="404.00" y1="296.60" x2="404.00" y2="376.00" stroke="#e0e0e0" stroke-width="0.6" />
<line x1="408.30" y1="294.60" x2="408.30" y2="376.00" stroke="#e0e0e0" stroke-width="0.6" />
<line x1="411.50" y1="290.90" x2="411.50" y2="376.00" stroke="#e0e0e0" stroke-width="0.6" />
<line x1="388.80" y1="296.60" x2="388.80" y2="340.00" stroke="#e0e0e0" stroke-width="0.6" />
<line x1="397.20" y1="296.60" x2="397.20" y2="327.00" stroke="#e0e0e0" stroke-width="0.6" />
<line x1="418.50" y1="290.90" x2="418.50" y2="319.40" stroke="#e0e0e0" stroke-width="0.6" />
<line x1="416.00" y1="319.40" x2="421.00" y2="319.40" stroke="#e0e0e0" stroke-width="0.6" />
<line x1="416.00" y1="319.40" x2="416.00" y2="376.00" stroke="#e0e0e0" stroke-width="0.6" />
<line x1="421.00" y1="319.40" x2="421.00" y2="376.00" stroke="#e0e0e0" stroke-width="0.6" />
<line x1="397.20" y1="330.00" x2="397.20" y2="344.40" stroke="#e8a0c8" stroke-width="0.6" stroke-dasharray="0.7,0.7" />
<rect x="395.3" y="344.4" width="3.9" height="31.5" fill="none" stroke="#e56aa8" stroke-width="0.7"/>
<polygon points="397.20,327.00 396.00,329.40 398.40,329.40" fill="#d01a70" />
<text x="390.40" y="321.80" font-size="4.2" fill="#333" text-anchor="middle" textLength="13" lengthAdjust="spacingAndGlyphs"  stroke="#333" stroke-width="0.16">SF3B1</text>
<text x="390.40" y="326.50" font-size="4.2" fill="#e6007e" text-anchor="middle" textLength="13" lengthAdjust="spacingAndGlyphs"  stroke="#e6007e" stroke-width="0.16">K700E</text>
<line x1="388.80" y1="342.00" x2="388.80" y2="353.00" stroke="#cfe4ef" stroke-width="0.6" />
<line x1="385.50" y1="353.00" x2="391.90" y2="353.00" stroke="#8ccbea" stroke-width="0.65" />
<line x1="391.90" y1="353.00" x2="391.90" y2="376.00" stroke="#8ccbea" stroke-width="0.65" />
<line x1="385.50" y1="353.00" x2="385.50" y2="358.40" stroke="#8ccbea" stroke-width="0.65" />
<line x1="381.70" y1="358.40" x2="388.30" y2="358.40" stroke="#8ccbea" stroke-width="0.65" />
<line x1="388.30" y1="358.40" x2="388.30" y2="376.00" stroke="#8ccbea" stroke-width="0.65" />
<line x1="381.70" y1="358.40" x2="381.70" y2="362.10" stroke="#8ccbea" stroke-width="0.65" />
<line x1="366.50" y1="362.10" x2="383.20" y2="362.10" stroke="#8ccbea" stroke-width="0.65" />
<line x1="383.20" y1="362.10" x2="383.20" y2="376.00" stroke="#8ccbea" stroke-width="0.65" />
<line x1="366.50" y1="362.10" x2="366.50" y2="376.00" stroke="#8ccbea" stroke-width="0.65" />
<line x1="374.50" y1="362.10" x2="374.50" y2="364.80" stroke="#8ccbea" stroke-width="0.65" />
<line x1="371.00" y1="364.80" x2="379.10" y2="364.80" stroke="#8ccbea" stroke-width="0.65" />
<line x1="379.10" y1="364.80" x2="379.10" y2="376.00" stroke="#8ccbea" stroke-width="0.65" />
<line x1="371.00" y1="364.80" x2="371.00" y2="367.50" stroke="#8ccbea" stroke-width="0.65" />
<line x1="368.80" y1="367.50" x2="375.30" y2="367.50" stroke="#8ccbea" stroke-width="0.65" />
<line x1="375.30" y1="367.50" x2="375.30" y2="376.00" stroke="#8ccbea" stroke-width="0.65" />
<line x1="368.80" y1="367.50" x2="368.80" y2="376.00" stroke="#8ccbea" stroke-width="0.65" />
<line x1="371.00" y1="373.30" x2="373.60" y2="373.30" stroke="#8ccbea" stroke-width="0.65" />
<line x1="373.60" y1="373.30" x2="373.60" y2="376.00" stroke="#8ccbea" stroke-width="0.65" />
<polygon points="388.80,340.00 387.60,342.40 390.00,342.40" fill="#2a6fa0" />
<text x="380.00" y="344.80" font-size="4.2" fill="#444" text-anchor="middle" textLength="12.5" lengthAdjust="spacingAndGlyphs"  stroke="#444" stroke-width="0.16">SF3B1</text>
<text x="380.00" y="349.30" font-size="4.2" fill="#6cc0e8" text-anchor="middle" textLength="12.5" lengthAdjust="spacingAndGlyphs"  stroke="#6cc0e8" stroke-width="0.16">K666N</text>
<rect x="365.30" y="375.60" width="2.00" height="2.00" fill="#1a1a2a" />
<rect x="367.93" y="375.60" width="2.00" height="2.00" fill="#1c2a5a" />
<rect x="370.56" y="375.60" width="2.00" height="2.00" fill="#1c2a5a" />
<rect x="373.19" y="375.60" width="2.00" height="2.00" fill="#1a1a2a" />
<rect x="375.82" y="375.60" width="2.00" height="2.00" fill="#1c2a5a" />
<rect x="378.45" y="375.60" width="2.00" height="2.00" fill="#1c2a5a" />
<rect x="381.08" y="375.60" width="2.00" height="2.00" fill="#1a1a2a" />
<rect x="383.71" y="375.60" width="2.00" height="2.00" fill="#1c2a5a" />
<rect x="386.34" y="375.60" width="2.00" height="2.00" fill="#1c2a5a" />
<rect x="388.97" y="375.60" width="2.00" height="2.00" fill="#1a1a2a" />
<rect x="391.60" y="375.60" width="2.00" height="2.00" fill="#1c2a5a" />
<rect x="394.23" y="375.60" width="2.00" height="2.00" fill="#1c2a5a" />
<rect x="396.86" y="375.60" width="2.00" height="2.00" fill="#1a1a2a" />
<rect x="399.49" y="375.60" width="2.00" height="2.00" fill="#e0a040" />
<rect x="402.12" y="375.60" width="2.00" height="2.00" fill="#e0a040" />
<rect x="404.75" y="375.60" width="2.00" height="2.00" fill="#e0a040" />
<rect x="407.38" y="375.60" width="2.00" height="2.00" fill="#1c2a5a" />
<rect x="410.01" y="375.60" width="2.00" height="2.00" fill="#1c2a5a" />
<rect x="412.64" y="375.60" width="2.00" height="2.00" fill="#1a1a2a" />
<rect x="415.27" y="375.60" width="2.00" height="2.00" fill="#1c2a5a" />
<rect x="417.90" y="375.60" width="2.00" height="2.00" fill="#1c2a5a" />
<circle cx="382.50" cy="386.30" r="2.10" fill="#000" />
<text x="387.30" y="388.56" font-size="6.3" fill="#231f20" textLength="13.7" lengthAdjust="spacingAndGlyphs"  stroke="#231f20" stroke-width="0.16">HSC</text>
<rect x="380.30" y="391.80" width="4.40" height="4.40" fill="#f0920a" />
<text x="387.30" y="396.26" font-size="6.3" fill="#231f20" textLength="13.7" lengthAdjust="spacingAndGlyphs"  stroke="#231f20" stroke-width="0.16">MEP</text>
<polygon points="382.50,400.00 384.60,402.10 382.50,404.20 380.40,402.10" fill="#8c7fc0" />
<text x="387.30" y="404.36" font-size="6.3" fill="#231f20" textLength="13.7" lengthAdjust="spacingAndGlyphs"  stroke="#231f20" stroke-width="0.16">MPP</text>
<line x1="426.60" y1="288.50" x2="426.60" y2="383.00" stroke="#231f20" stroke-width="1.3" />
<line x1="426.60" y1="291.00" x2="428.80" y2="291.00" stroke="#231f20" stroke-width="0.9" />
<text x="431.60" y="293.15" font-size="6.0" fill="#231f20" textLength="3.3" lengthAdjust="spacingAndGlyphs"  stroke="#231f20" stroke-width="0.16">0</text>
<line x1="426.60" y1="300.83" x2="428.80" y2="300.83" stroke="#231f20" stroke-width="0.9" />
<text x="431.60" y="302.98" font-size="6.0" fill="#231f20" textLength="6.6" lengthAdjust="spacingAndGlyphs"  stroke="#231f20" stroke-width="0.16">10</text>
<line x1="426.60" y1="310.66" x2="428.80" y2="310.66" stroke="#231f20" stroke-width="0.9" />
<text x="431.60" y="312.81" font-size="6.0" fill="#231f20" textLength="6.6" lengthAdjust="spacingAndGlyphs"  stroke="#231f20" stroke-width="0.16">20</text>
<line x1="426.60" y1="320.49" x2="428.80" y2="320.49" stroke="#231f20" stroke-width="0.9" />
<text x="431.60" y="322.64" font-size="6.0" fill="#231f20" textLength="6.6" lengthAdjust="spacingAndGlyphs"  stroke="#231f20" stroke-width="0.16">30</text>
<line x1="426.60" y1="330.32" x2="428.80" y2="330.32" stroke="#231f20" stroke-width="0.9" />
<text x="431.60" y="332.47" font-size="6.0" fill="#231f20" textLength="6.6" lengthAdjust="spacingAndGlyphs"  stroke="#231f20" stroke-width="0.16">40</text>
<line x1="426.60" y1="340.15" x2="428.80" y2="340.15" stroke="#231f20" stroke-width="0.9" />
<text x="431.60" y="342.30" font-size="6.0" fill="#231f20" textLength="6.6" lengthAdjust="spacingAndGlyphs"  stroke="#231f20" stroke-width="0.16">50</text>
<line x1="426.60" y1="349.98" x2="428.80" y2="349.98" stroke="#231f20" stroke-width="0.9" />
<text x="431.60" y="352.13" font-size="6.0" fill="#231f20" textLength="6.6" lengthAdjust="spacingAndGlyphs"  stroke="#231f20" stroke-width="0.16">60</text>
<line x1="426.60" y1="359.81" x2="428.80" y2="359.81" stroke="#231f20" stroke-width="0.9" />
<text x="431.60" y="361.96" font-size="6.0" fill="#231f20" textLength="6.6" lengthAdjust="spacingAndGlyphs"  stroke="#231f20" stroke-width="0.16">70</text>
<line x1="426.60" y1="369.64" x2="428.80" y2="369.64" stroke="#231f20" stroke-width="0.9" />
<text x="431.60" y="371.79" font-size="6.0" fill="#231f20" textLength="6.6" lengthAdjust="spacingAndGlyphs"  stroke="#231f20" stroke-width="0.16">80</text>
<line x1="426.60" y1="379.47" x2="428.80" y2="379.47" stroke="#231f20" stroke-width="0.9" />
<text x="431.60" y="381.62" font-size="6.0" fill="#231f20" textLength="6.6" lengthAdjust="spacingAndGlyphs"  stroke="#231f20" stroke-width="0.16">90</text>
<text x="431.20" y="391.52" font-size="7.6" fill="#231f20" text-anchor="middle" font-weight="bold" textLength="9.5" lengthAdjust="spacingAndGlyphs" >Age</text>
<line x1="470.70" y1="289.50" x2="470.70" y2="376.20" stroke="#231f20" stroke-width="1.3" />
<line x1="470.70" y1="375.70" x2="513.00" y2="375.70" stroke="#231f20" stroke-width="1.3" />
<line x1="468.20" y1="375.70" x2="470.70" y2="375.70" stroke="#231f20" stroke-width="0.9" />
<text x="465.20" y="377.85" font-size="6.0" fill="#231f20" text-anchor="end" textLength="3.3" lengthAdjust="spacingAndGlyphs"  stroke="#231f20" stroke-width="0.16">0</text>
<line x1="468.20" y1="366.50" x2="470.70" y2="366.50" stroke="#231f20" stroke-width="0.9" />
<text x="465.20" y="368.65" font-size="6.0" fill="#231f20" text-anchor="end" textLength="6.6" lengthAdjust="spacingAndGlyphs"  stroke="#231f20" stroke-width="0.16">10</text>
<line x1="468.20" y1="357.30" x2="470.70" y2="357.30" stroke="#231f20" stroke-width="0.9" />
<text x="465.20" y="359.45" font-size="6.0" fill="#231f20" text-anchor="end" textLength="6.6" lengthAdjust="spacingAndGlyphs"  stroke="#231f20" stroke-width="0.16">20</text>
<line x1="468.20" y1="348.10" x2="470.70" y2="348.10" stroke="#231f20" stroke-width="0.9" />
<text x="465.20" y="350.25" font-size="6.0" fill="#231f20" text-anchor="end" textLength="6.6" lengthAdjust="spacingAndGlyphs"  stroke="#231f20" stroke-width="0.16">30</text>
<line x1="468.20" y1="338.90" x2="470.70" y2="338.90" stroke="#231f20" stroke-width="0.9" />
<text x="465.20" y="341.05" font-size="6.0" fill="#231f20" text-anchor="end" textLength="6.6" lengthAdjust="spacingAndGlyphs"  stroke="#231f20" stroke-width="0.16">40</text>
<line x1="468.20" y1="329.70" x2="470.70" y2="329.70" stroke="#231f20" stroke-width="0.9" />
<text x="465.20" y="331.85" font-size="6.0" fill="#231f20" text-anchor="end" textLength="6.6" lengthAdjust="spacingAndGlyphs"  stroke="#231f20" stroke-width="0.16">50</text>
<line x1="468.20" y1="320.50" x2="470.70" y2="320.50" stroke="#231f20" stroke-width="0.9" />
<text x="465.20" y="322.65" font-size="6.0" fill="#231f20" text-anchor="end" textLength="6.6" lengthAdjust="spacingAndGlyphs"  stroke="#231f20" stroke-width="0.16">60</text>
<line x1="468.20" y1="311.30" x2="470.70" y2="311.30" stroke="#231f20" stroke-width="0.9" />
<text x="465.20" y="313.45" font-size="6.0" fill="#231f20" text-anchor="end" textLength="6.6" lengthAdjust="spacingAndGlyphs"  stroke="#231f20" stroke-width="0.16">70</text>
<line x1="468.20" y1="302.10" x2="470.70" y2="302.10" stroke="#231f20" stroke-width="0.9" />
<text x="465.20" y="304.25" font-size="6.0" fill="#231f20" text-anchor="end" textLength="6.6" lengthAdjust="spacingAndGlyphs"  stroke="#231f20" stroke-width="0.16">80</text>
<line x1="468.20" y1="292.90" x2="470.70" y2="292.90" stroke="#231f20" stroke-width="0.9" />
<text x="465.20" y="295.05" font-size="6.0" fill="#231f20" text-anchor="end" textLength="6.6" lengthAdjust="spacingAndGlyphs"  stroke="#231f20" stroke-width="0.16">90</text>
<line x1="470.70" y1="298.90" x2="511.00" y2="298.90" stroke="#111" stroke-width="0.9" stroke-dasharray="1.8,1.4" />
<text x="494.70" y="296.75" font-size="6.0" fill="#231f20" text-anchor="middle" textLength="25.4" lengthAdjust="spacingAndGlyphs"  stroke="#231f20" stroke-width="0.16">Diagnosis</text>
<rect x="475.60" y="317.60" width="14.30" height="52.20" fill="url(#hatchB)" />
<rect x="494.70" y="326.90" width="14.20" height="42.90" fill="url(#hatchM)" />
<line x1="482.70" y1="313.20" x2="482.70" y2="322.00" stroke="#333" stroke-width="0.9" />
<line x1="501.60" y1="324.00" x2="501.60" y2="330.00" stroke="#333" stroke-width="0.9" />
<line x1="482.40" y1="375.70" x2="482.40" y2="378.00" stroke="#231f20" stroke-width="0.8" />
<line x1="501.30" y1="375.70" x2="501.30" y2="378.00" stroke="#231f20" stroke-width="0.8" />
<text transform="translate(485.80,384.20) rotate(-45)" font-size="6.3" fill="#231f20" text-anchor="end" textLength="19.3" lengthAdjust="spacingAndGlyphs"  stroke="#231f20" stroke-width="0.16">K666N</text>
<text transform="translate(505.00,384.20) rotate(-45)" font-size="6.3" fill="#231f20" text-anchor="end" textLength="19.3" lengthAdjust="spacingAndGlyphs"  stroke="#231f20" stroke-width="0.16">K700E</text>
<text transform="translate(453.6,332.3) rotate(-90)" font-size="6.8" fill="#231f20" stroke="#231f20" stroke-width="0.15" text-anchor="middle" textLength="88.5" lengthAdjust="spacingAndGlyphs">Age estimate of <tspan font-style="italic">SF3B1</tspan><tspan font-size="4" dy="-2.4">mt</tspan><tspan dy="2.4"> acquisition</tspan></text>
<rect x="0.5" y="0.5" width="519" height="411" fill="none" stroke="#5a5a5a" stroke-width="1"/>
</svg></body></html>
